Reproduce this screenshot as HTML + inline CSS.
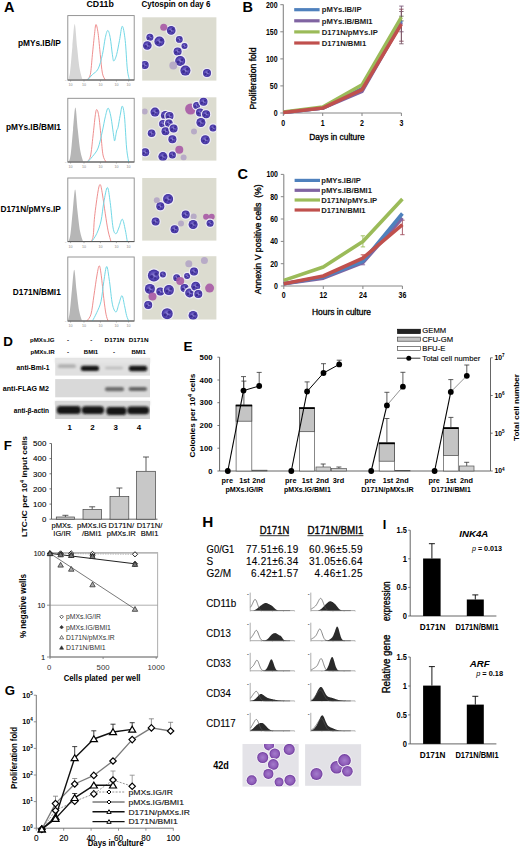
<!DOCTYPE html>
<html><head><meta charset="utf-8"><style>
html,body{margin:0;padding:0;background:#fff;width:520px;height:848px;overflow:hidden}
svg{display:block}
text{font-family:"Liberation Sans",sans-serif;stroke:#000;stroke-width:0.22px;stroke-opacity:0.55}
text.ns,text[font-weight="bold"]{stroke:none}
text.hv{stroke:#000;stroke-width:0.45px;stroke-opacity:0.75}
</style></head><body>
<svg width="520" height="848" viewBox="0 0 520 848">
<text x="4.0" y="11.6" font-size="14.5" font-weight="bold" text-anchor="start" fill="#000" >A</text>
<text x="86.5" y="7.3" font-size="8.8" font-weight="bold" text-anchor="start" fill="#000" >CD11b</text>
<text x="141.5" y="7.4" font-size="8.4" font-weight="bold" text-anchor="start" fill="#000" textLength="69.0" lengthAdjust="spacingAndGlyphs" >Cytospin on day 6</text>
<text x="60.8" y="45.5" font-size="8.3" font-weight="bold" text-anchor="end" fill="#000" >pMYs.IB/IP</text>
<text x="60.8" y="130.3" font-size="8.3" font-weight="bold" text-anchor="end" fill="#000" >pMYs.IB/BMI1</text>
<text x="60.8" y="211.5" font-size="8.3" font-weight="bold" text-anchor="end" fill="#000" >D171N/pMYs.IP</text>
<text x="60.8" y="295.0" font-size="8.3" font-weight="bold" text-anchor="end" fill="#000" >D171N/BMI1</text>
<rect x="67.8" y="15.6" width="66.4" height="64.4" fill="#fff" stroke="#8a8a8a" stroke-width="0.9" />
<path d="M68.10,80.00 C68.43,78.60 69.36,77.20 70.08,71.61 C70.80,66.02 71.62,54.38 72.39,46.46 C73.16,38.54 73.93,24.10 74.70,24.10 C75.47,24.10 76.19,39.01 77.01,46.46 C77.84,53.91 78.72,63.23 79.65,68.82 C80.59,74.41 82.12,78.14 82.62,80.00 Z" fill="#d6d6d6"/>
<path d="M86.80,80.00 C87.38,79.10 89.37,78.82 90.30,74.60 C91.23,70.38 91.68,61.58 92.40,54.70 C93.12,47.82 94.00,38.33 94.60,33.30 C95.20,28.27 95.42,24.50 96.00,24.50 C96.58,24.50 97.38,28.27 98.10,33.30 C98.82,38.33 99.58,48.05 100.30,54.70 C101.02,61.35 101.57,68.98 102.40,73.20 C103.23,77.42 104.82,78.87 105.30,80.00" fill="none" stroke="#ec8282" stroke-width="0.9"/>
<path d="M87.50,80.00 C88.32,79.10 90.63,76.45 92.40,74.60 C94.17,72.75 96.43,72.22 98.10,68.90 C99.77,65.58 101.20,59.92 102.40,54.70 C103.60,49.48 104.40,41.63 105.30,37.60 C106.20,33.57 106.98,30.50 107.80,30.50 C108.62,30.50 109.43,33.57 110.20,37.60 C110.97,41.63 111.80,50.80 112.40,54.70 C113.00,58.60 113.10,61.00 113.80,61.00 C114.50,61.00 115.65,58.13 116.60,54.70 C117.55,51.27 118.55,45.15 119.50,40.40 C120.45,35.65 121.35,26.20 122.30,26.20 C123.25,26.20 124.37,33.28 125.20,40.40 C126.03,47.52 126.60,62.30 127.30,68.90 C128.00,75.50 129.05,78.15 129.40,80.00" fill="none" stroke="#72d8e6" stroke-width="1.0"/>
<line x1="67.8" y1="80.0" x2="134.2" y2="80.0" stroke="#555" stroke-width="1.0" />
<line x1="70.6" y1="80.0" x2="70.6" y2="81.5" stroke="#777" stroke-width="0.6" />
<text x="70.6" y="86.4" font-size="3.6" font-weight="normal" text-anchor="middle" fill="#888" class="ns">10</text>
<line x1="84.0" y1="80.0" x2="84.0" y2="81.5" stroke="#777" stroke-width="0.6" />
<text x="84.0" y="86.4" font-size="3.6" font-weight="normal" text-anchor="middle" fill="#888" class="ns">10</text>
<line x1="100.4" y1="80.0" x2="100.4" y2="81.5" stroke="#777" stroke-width="0.6" />
<text x="100.4" y="86.4" font-size="3.6" font-weight="normal" text-anchor="middle" fill="#888" class="ns">10</text>
<line x1="116.4" y1="80.0" x2="116.4" y2="81.5" stroke="#777" stroke-width="0.6" />
<text x="116.4" y="86.4" font-size="3.6" font-weight="normal" text-anchor="middle" fill="#888" class="ns">10</text>
<line x1="128.6" y1="80.0" x2="128.6" y2="81.5" stroke="#777" stroke-width="0.6" />
<text x="128.6" y="86.4" font-size="3.6" font-weight="normal" text-anchor="middle" fill="#888" class="ns">10</text>
<text x="66.3" y="81.0" font-size="2.5" font-weight="normal" text-anchor="end" fill="#aaa" class="ns">0</text>
<rect x="67.8" y="98.3" width="66.4" height="63.7" fill="#fff" stroke="#8a8a8a" stroke-width="0.9" />
<path d="M68.80,162.00 C69.13,160.64 70.06,159.27 70.78,153.82 C71.50,148.38 72.32,137.02 73.09,129.30 C73.86,121.58 74.63,107.50 75.40,107.50 C76.17,107.50 76.89,122.03 77.71,129.30 C78.54,136.57 79.42,145.65 80.35,151.10 C81.29,156.55 82.83,160.18 83.32,162.00 Z" fill="#b6b6b6"/>
<path d="M87.00,162.00 C87.58,161.00 89.50,160.33 90.50,156.00 C91.50,151.67 92.22,142.67 93.00,136.00 C93.78,129.33 94.58,120.40 95.20,116.00 C95.82,111.60 96.10,109.60 96.70,109.60 C97.30,109.60 98.08,111.60 98.80,116.00 C99.52,120.40 100.30,129.50 101.00,136.00 C101.70,142.50 102.17,150.67 103.00,155.00 C103.83,159.33 105.50,160.83 106.00,162.00" fill="none" stroke="#ec8282" stroke-width="0.9"/>
<path d="M87.50,162.00 C88.32,161.10 90.63,158.93 92.40,156.60 C94.17,154.27 96.43,152.27 98.10,148.00 C99.77,143.73 101.20,136.20 102.40,131.00 C103.60,125.80 104.35,120.60 105.30,116.80 C106.25,113.00 107.17,108.20 108.10,108.20 C109.03,108.20 109.95,112.05 110.90,116.80 C111.85,121.55 113.15,132.75 113.80,136.70 C114.45,140.65 114.33,141.45 114.80,140.50 C115.27,139.55 116.07,133.18 116.60,131.00 C117.13,128.82 117.40,130.02 118.00,127.40 C118.60,124.78 119.48,118.85 120.20,115.30 C120.92,111.75 121.58,105.85 122.30,106.10 C123.02,106.35 123.78,109.82 124.50,116.80 C125.22,123.78 125.90,140.47 126.60,148.00 C127.30,155.53 128.35,159.67 128.70,162.00" fill="none" stroke="#72d8e6" stroke-width="1.0"/>
<line x1="67.8" y1="162.0" x2="134.2" y2="162.0" stroke="#555" stroke-width="1.0" />
<line x1="70.6" y1="162.0" x2="70.6" y2="163.5" stroke="#777" stroke-width="0.6" />
<text x="70.6" y="168.4" font-size="3.6" font-weight="normal" text-anchor="middle" fill="#888" class="ns">10</text>
<line x1="84.0" y1="162.0" x2="84.0" y2="163.5" stroke="#777" stroke-width="0.6" />
<text x="84.0" y="168.4" font-size="3.6" font-weight="normal" text-anchor="middle" fill="#888" class="ns">10</text>
<line x1="100.4" y1="162.0" x2="100.4" y2="163.5" stroke="#777" stroke-width="0.6" />
<text x="100.4" y="168.4" font-size="3.6" font-weight="normal" text-anchor="middle" fill="#888" class="ns">10</text>
<line x1="116.4" y1="162.0" x2="116.4" y2="163.5" stroke="#777" stroke-width="0.6" />
<text x="116.4" y="168.4" font-size="3.6" font-weight="normal" text-anchor="middle" fill="#888" class="ns">10</text>
<line x1="128.6" y1="162.0" x2="128.6" y2="163.5" stroke="#777" stroke-width="0.6" />
<text x="128.6" y="168.4" font-size="3.6" font-weight="normal" text-anchor="middle" fill="#888" class="ns">10</text>
<text x="66.3" y="163.0" font-size="2.5" font-weight="normal" text-anchor="end" fill="#aaa" class="ns">0</text>
<rect x="67.8" y="178.0" width="66.4" height="63.6" fill="#fff" stroke="#8a8a8a" stroke-width="0.9" />
<path d="M68.50,241.60 C68.83,240.30 69.76,239.00 70.48,233.80 C71.19,228.60 72.02,217.77 72.79,210.40 C73.56,203.03 74.33,189.60 75.10,189.60 C75.87,189.60 76.58,203.47 77.41,210.40 C78.23,217.33 79.11,226.00 80.05,231.20 C80.98,236.40 82.52,239.87 83.02,241.60 Z" fill="#b6b6b6"/>
<path d="M91.00,241.60 C91.37,240.67 92.60,240.15 93.20,236.00 C93.80,231.85 93.78,224.20 94.60,216.70 C95.42,209.20 97.15,196.33 98.10,191.00 C99.05,185.67 99.58,184.20 100.30,184.70 C101.02,185.20 101.57,189.15 102.40,194.00 C103.23,198.85 104.35,207.65 105.30,213.80 C106.25,219.95 107.15,226.27 108.10,230.90 C109.05,235.53 110.52,239.82 111.00,241.60" fill="none" stroke="#ec8282" stroke-width="0.9"/>
<path d="M91.70,241.60 C92.53,240.28 95.15,237.13 96.70,233.70 C98.25,230.27 99.82,226.22 101.00,221.00 C102.18,215.78 102.73,207.98 103.80,202.40 C104.87,196.82 106.33,187.50 107.40,187.50 C108.47,187.50 109.25,195.65 110.20,202.40 C111.15,209.15 112.13,222.78 113.10,228.00 C114.07,233.22 115.05,233.70 116.00,233.70 C116.95,233.70 117.75,230.42 118.80,228.00 C119.85,225.58 121.23,218.95 122.30,219.20 C123.37,219.45 124.37,225.77 125.20,229.50 C126.03,233.23 126.95,239.58 127.30,241.60" fill="none" stroke="#72d8e6" stroke-width="1.0"/>
<line x1="67.8" y1="241.6" x2="134.2" y2="241.6" stroke="#555" stroke-width="1.0" />
<line x1="70.6" y1="241.6" x2="70.6" y2="243.1" stroke="#777" stroke-width="0.6" />
<text x="70.6" y="248.0" font-size="3.6" font-weight="normal" text-anchor="middle" fill="#888" class="ns">10</text>
<line x1="84.0" y1="241.6" x2="84.0" y2="243.1" stroke="#777" stroke-width="0.6" />
<text x="84.0" y="248.0" font-size="3.6" font-weight="normal" text-anchor="middle" fill="#888" class="ns">10</text>
<line x1="100.4" y1="241.6" x2="100.4" y2="243.1" stroke="#777" stroke-width="0.6" />
<text x="100.4" y="248.0" font-size="3.6" font-weight="normal" text-anchor="middle" fill="#888" class="ns">10</text>
<line x1="116.4" y1="241.6" x2="116.4" y2="243.1" stroke="#777" stroke-width="0.6" />
<text x="116.4" y="248.0" font-size="3.6" font-weight="normal" text-anchor="middle" fill="#888" class="ns">10</text>
<line x1="128.6" y1="241.6" x2="128.6" y2="243.1" stroke="#777" stroke-width="0.6" />
<text x="128.6" y="248.0" font-size="3.6" font-weight="normal" text-anchor="middle" fill="#888" class="ns">10</text>
<text x="66.3" y="242.6" font-size="2.5" font-weight="normal" text-anchor="end" fill="#aaa" class="ns">0</text>
<rect x="67.8" y="257.0" width="66.4" height="64.0" fill="#fff" stroke="#8a8a8a" stroke-width="0.9" />
<path d="M67.60,321.00 C67.93,319.72 68.86,318.44 69.58,313.32 C70.30,308.20 71.12,297.53 71.89,290.28 C72.66,283.03 73.43,269.80 74.20,269.80 C74.97,269.80 75.69,283.45 76.51,290.28 C77.34,297.11 78.22,305.64 79.15,310.76 C80.09,315.88 81.62,319.29 82.12,321.00 Z" fill="#b6b6b6"/>
<path d="M86.80,321.00 C87.50,319.87 89.82,318.42 91.00,314.20 C92.18,309.98 92.90,302.23 93.90,295.70 C94.90,289.17 96.10,279.98 97.00,275.00 C97.90,270.02 98.58,265.67 99.30,265.80 C100.02,265.93 100.55,270.35 101.30,275.80 C102.05,281.25 103.02,292.10 103.80,298.50 C104.58,304.90 105.28,310.45 106.00,314.20 C106.72,317.95 107.75,319.87 108.10,321.00" fill="none" stroke="#ec8282" stroke-width="0.9"/>
<path d="M92.40,321.00 C93.12,319.62 95.27,315.97 96.70,312.70 C98.13,309.43 99.82,306.60 101.00,301.40 C102.18,296.20 102.85,287.32 103.80,281.50 C104.75,275.68 105.75,266.50 106.70,266.50 C107.65,266.50 108.55,275.22 109.50,281.50 C110.45,287.78 111.32,299.12 112.40,304.20 C113.48,309.28 114.93,312.00 116.00,312.00 C117.07,312.00 117.80,306.92 118.80,304.20 C119.80,301.48 121.05,295.47 122.00,295.70 C122.95,295.93 123.73,302.28 124.50,305.60 C125.27,308.92 125.90,313.03 126.60,315.60 C127.30,318.17 128.35,320.10 128.70,321.00" fill="none" stroke="#72d8e6" stroke-width="1.0"/>
<line x1="67.8" y1="321.0" x2="134.2" y2="321.0" stroke="#555" stroke-width="1.0" />
<line x1="70.6" y1="321.0" x2="70.6" y2="322.5" stroke="#777" stroke-width="0.6" />
<text x="70.6" y="327.4" font-size="3.6" font-weight="normal" text-anchor="middle" fill="#888" class="ns">10</text>
<line x1="84.0" y1="321.0" x2="84.0" y2="322.5" stroke="#777" stroke-width="0.6" />
<text x="84.0" y="327.4" font-size="3.6" font-weight="normal" text-anchor="middle" fill="#888" class="ns">10</text>
<line x1="100.4" y1="321.0" x2="100.4" y2="322.5" stroke="#777" stroke-width="0.6" />
<text x="100.4" y="327.4" font-size="3.6" font-weight="normal" text-anchor="middle" fill="#888" class="ns">10</text>
<line x1="116.4" y1="321.0" x2="116.4" y2="322.5" stroke="#777" stroke-width="0.6" />
<text x="116.4" y="327.4" font-size="3.6" font-weight="normal" text-anchor="middle" fill="#888" class="ns">10</text>
<line x1="128.6" y1="321.0" x2="128.6" y2="322.5" stroke="#777" stroke-width="0.6" />
<text x="128.6" y="327.4" font-size="3.6" font-weight="normal" text-anchor="middle" fill="#888" class="ns">10</text>
<text x="66.3" y="322.0" font-size="2.5" font-weight="normal" text-anchor="end" fill="#aaa" class="ns">0</text>
<defs><filter id="sblur" x="-50%" y="-50%" width="200%" height="200%"><feGaussianBlur stdDeviation="0.6"/></filter></defs>
<defs><radialGradient id="cellg"><stop offset="0" stop-color="#9488da"/><stop offset="0.55" stop-color="#6252bc"/><stop offset="1" stop-color="#3c2c9a"/></radialGradient></defs>
<rect x="142.2" y="17.3" width="74.2" height="63.3" fill="#dcdcd0" stroke="none" stroke-width="1" />
<g clip-path="url(#clipc17)">
<circle cx="171.2" cy="30.4" r="5.6" fill="#eceaf4" stroke="none" stroke-width="1" />
<circle cx="171.2" cy="30.4" r="4.3" fill="url(#cellg)" stroke="none" stroke-width="1" />
<circle cx="169.7" cy="31.3" r="1.3" fill="#2c1c80" stroke="none" stroke-width="1" opacity="0.75"/>
<circle cx="172.7" cy="29.3" r="1.2" fill="#2c1c80" stroke="none" stroke-width="1" opacity="0.7"/>
<circle cx="172.1" cy="32.3" r="0.9" fill="#2c1c80" stroke="none" stroke-width="1" opacity="0.6"/>
<circle cx="149.9" cy="37.2" r="4.8" fill="#eceaf4" stroke="none" stroke-width="1" />
<circle cx="149.9" cy="37.2" r="3.5" fill="url(#cellg)" stroke="none" stroke-width="1" />
<circle cx="148.7" cy="37.9" r="1.1" fill="#2c1c80" stroke="none" stroke-width="1" opacity="0.75"/>
<circle cx="151.1" cy="36.3" r="1.0" fill="#2c1c80" stroke="none" stroke-width="1" opacity="0.7"/>
<circle cx="150.6" cy="38.8" r="0.8" fill="#2c1c80" stroke="none" stroke-width="1" opacity="0.6"/>
<circle cx="159.4" cy="41.5" r="6.3" fill="#eceaf4" stroke="none" stroke-width="1" />
<circle cx="159.4" cy="41.5" r="5.0" fill="url(#cellg)" stroke="none" stroke-width="1" />
<circle cx="157.7" cy="42.5" r="1.5" fill="#2c1c80" stroke="none" stroke-width="1" opacity="0.75"/>
<circle cx="161.2" cy="40.2" r="1.4" fill="#2c1c80" stroke="none" stroke-width="1" opacity="0.7"/>
<circle cx="160.4" cy="43.8" r="1.1" fill="#2c1c80" stroke="none" stroke-width="1" opacity="0.6"/>
<circle cx="147.3" cy="45.5" r="5.6" fill="#eceaf4" stroke="none" stroke-width="1" />
<circle cx="147.3" cy="45.5" r="4.3" fill="url(#cellg)" stroke="none" stroke-width="1" />
<circle cx="145.8" cy="46.4" r="1.3" fill="#2c1c80" stroke="none" stroke-width="1" opacity="0.75"/>
<circle cx="148.8" cy="44.4" r="1.2" fill="#2c1c80" stroke="none" stroke-width="1" opacity="0.7"/>
<circle cx="148.2" cy="47.4" r="0.9" fill="#2c1c80" stroke="none" stroke-width="1" opacity="0.6"/>
<circle cx="179.3" cy="39.4" r="4.7" fill="#eceaf4" stroke="none" stroke-width="1" />
<circle cx="179.3" cy="39.4" r="3.4" fill="url(#cellg)" stroke="none" stroke-width="1" />
<circle cx="178.1" cy="40.1" r="1.0" fill="#2c1c80" stroke="none" stroke-width="1" opacity="0.75"/>
<circle cx="180.5" cy="38.5" r="1.0" fill="#2c1c80" stroke="none" stroke-width="1" opacity="0.7"/>
<circle cx="180.0" cy="40.9" r="0.7" fill="#2c1c80" stroke="none" stroke-width="1" opacity="0.6"/>
<circle cx="184.5" cy="46.0" r="4.3" fill="#eceaf4" stroke="none" stroke-width="1" />
<circle cx="184.5" cy="46.0" r="3.0" fill="url(#cellg)" stroke="none" stroke-width="1" />
<circle cx="183.4" cy="46.6" r="0.9" fill="#2c1c80" stroke="none" stroke-width="1" opacity="0.75"/>
<circle cx="185.6" cy="45.2" r="0.8" fill="#2c1c80" stroke="none" stroke-width="1" opacity="0.7"/>
<circle cx="185.1" cy="47.4" r="0.7" fill="#2c1c80" stroke="none" stroke-width="1" opacity="0.6"/>
<circle cx="177.6" cy="51.5" r="5.3" fill="#eceaf4" stroke="none" stroke-width="1" />
<circle cx="177.6" cy="51.5" r="4.0" fill="url(#cellg)" stroke="none" stroke-width="1" />
<circle cx="176.2" cy="52.3" r="1.2" fill="#2c1c80" stroke="none" stroke-width="1" opacity="0.75"/>
<circle cx="179.0" cy="50.5" r="1.1" fill="#2c1c80" stroke="none" stroke-width="1" opacity="0.7"/>
<circle cx="178.4" cy="53.3" r="0.9" fill="#2c1c80" stroke="none" stroke-width="1" opacity="0.6"/>
<circle cx="180.2" cy="61.0" r="6.3" fill="#eceaf4" stroke="none" stroke-width="1" />
<circle cx="180.2" cy="61.0" r="5.0" fill="url(#cellg)" stroke="none" stroke-width="1" />
<circle cx="178.4" cy="62.0" r="1.5" fill="#2c1c80" stroke="none" stroke-width="1" opacity="0.75"/>
<circle cx="181.9" cy="59.8" r="1.4" fill="#2c1c80" stroke="none" stroke-width="1" opacity="0.7"/>
<circle cx="181.2" cy="63.2" r="1.1" fill="#2c1c80" stroke="none" stroke-width="1" opacity="0.6"/>
<circle cx="185.4" cy="70.6" r="6.3" fill="#eceaf4" stroke="none" stroke-width="1" />
<circle cx="185.4" cy="70.6" r="5.0" fill="url(#cellg)" stroke="none" stroke-width="1" />
<circle cx="183.7" cy="71.6" r="1.5" fill="#2c1c80" stroke="none" stroke-width="1" opacity="0.75"/>
<circle cx="187.2" cy="69.3" r="1.4" fill="#2c1c80" stroke="none" stroke-width="1" opacity="0.7"/>
<circle cx="186.4" cy="72.8" r="1.1" fill="#2c1c80" stroke="none" stroke-width="1" opacity="0.6"/>
<circle cx="173.3" cy="65.4" r="4.0" fill="#b4a6c6" stroke="none" stroke-width="1" opacity="0.9" filter="url(#sblur)"/>
<circle cx="144.7" cy="65.0" r="5.3" fill="#eceaf4" stroke="none" stroke-width="1" />
<circle cx="144.7" cy="65.0" r="4.0" fill="url(#cellg)" stroke="none" stroke-width="1" />
<circle cx="143.3" cy="65.8" r="1.2" fill="#2c1c80" stroke="none" stroke-width="1" opacity="0.75"/>
<circle cx="146.1" cy="64.0" r="1.1" fill="#2c1c80" stroke="none" stroke-width="1" opacity="0.7"/>
<circle cx="145.5" cy="66.8" r="0.9" fill="#2c1c80" stroke="none" stroke-width="1" opacity="0.6"/>
<circle cx="207.0" cy="73.1" r="5.3" fill="#eceaf4" stroke="none" stroke-width="1" />
<circle cx="207.0" cy="73.1" r="4.0" fill="url(#cellg)" stroke="none" stroke-width="1" />
<circle cx="205.6" cy="73.9" r="1.2" fill="#2c1c80" stroke="none" stroke-width="1" opacity="0.75"/>
<circle cx="208.4" cy="72.1" r="1.1" fill="#2c1c80" stroke="none" stroke-width="1" opacity="0.7"/>
<circle cx="207.8" cy="74.9" r="0.9" fill="#2c1c80" stroke="none" stroke-width="1" opacity="0.6"/>
<circle cx="163.7" cy="27.3" r="3.5" fill="#a85aa6" stroke="none" stroke-width="1" opacity="0.9" filter="url(#sblur)"/>
</g>
<clipPath id="clipc17"><rect x="142.2" y="17.3" width="74.20000000000002" height="63.3"/></clipPath>
<rect x="142.2" y="97.3" width="74.2" height="63.3" fill="#dcdcd0" stroke="none" stroke-width="1" />
<g clip-path="url(#clipc97)">
<circle cx="144.7" cy="111.6" r="3.0" fill="#b4a6c6" stroke="none" stroke-width="1" opacity="0.9" filter="url(#sblur)"/>
<circle cx="155.0" cy="112.1" r="5.8" fill="#eceaf4" stroke="none" stroke-width="1" />
<circle cx="155.0" cy="112.1" r="4.5" fill="url(#cellg)" stroke="none" stroke-width="1" />
<circle cx="153.4" cy="113.0" r="1.3" fill="#2c1c80" stroke="none" stroke-width="1" opacity="0.75"/>
<circle cx="156.6" cy="111.0" r="1.3" fill="#2c1c80" stroke="none" stroke-width="1" opacity="0.7"/>
<circle cx="155.9" cy="114.1" r="1.0" fill="#2c1c80" stroke="none" stroke-width="1" opacity="0.6"/>
<circle cx="165.5" cy="115.6" r="5.9" fill="#eceaf4" stroke="none" stroke-width="1" />
<circle cx="165.5" cy="115.6" r="4.6" fill="url(#cellg)" stroke="none" stroke-width="1" />
<circle cx="163.9" cy="116.5" r="1.4" fill="#2c1c80" stroke="none" stroke-width="1" opacity="0.75"/>
<circle cx="167.1" cy="114.4" r="1.3" fill="#2c1c80" stroke="none" stroke-width="1" opacity="0.7"/>
<circle cx="166.4" cy="117.7" r="1.0" fill="#2c1c80" stroke="none" stroke-width="1" opacity="0.6"/>
<circle cx="169.5" cy="116.0" r="5.3" fill="#eceaf4" stroke="none" stroke-width="1" />
<circle cx="169.5" cy="116.0" r="4.0" fill="url(#cellg)" stroke="none" stroke-width="1" />
<circle cx="168.1" cy="116.8" r="1.2" fill="#2c1c80" stroke="none" stroke-width="1" opacity="0.75"/>
<circle cx="170.9" cy="115.0" r="1.1" fill="#2c1c80" stroke="none" stroke-width="1" opacity="0.7"/>
<circle cx="170.3" cy="117.8" r="0.9" fill="#2c1c80" stroke="none" stroke-width="1" opacity="0.6"/>
<circle cx="162.9" cy="123.7" r="5.1" fill="#eceaf4" stroke="none" stroke-width="1" />
<circle cx="162.9" cy="123.7" r="3.8" fill="url(#cellg)" stroke="none" stroke-width="1" />
<circle cx="161.6" cy="124.5" r="1.1" fill="#2c1c80" stroke="none" stroke-width="1" opacity="0.75"/>
<circle cx="164.2" cy="122.8" r="1.1" fill="#2c1c80" stroke="none" stroke-width="1" opacity="0.7"/>
<circle cx="163.7" cy="125.4" r="0.8" fill="#2c1c80" stroke="none" stroke-width="1" opacity="0.6"/>
<circle cx="168.9" cy="123.2" r="5.1" fill="#eceaf4" stroke="none" stroke-width="1" />
<circle cx="168.9" cy="123.2" r="3.8" fill="url(#cellg)" stroke="none" stroke-width="1" />
<circle cx="167.6" cy="124.0" r="1.1" fill="#2c1c80" stroke="none" stroke-width="1" opacity="0.75"/>
<circle cx="170.2" cy="122.2" r="1.1" fill="#2c1c80" stroke="none" stroke-width="1" opacity="0.7"/>
<circle cx="169.7" cy="124.9" r="0.8" fill="#2c1c80" stroke="none" stroke-width="1" opacity="0.6"/>
<circle cx="165.5" cy="131.2" r="5.3" fill="#eceaf4" stroke="none" stroke-width="1" />
<circle cx="165.5" cy="131.2" r="4.0" fill="url(#cellg)" stroke="none" stroke-width="1" />
<circle cx="164.1" cy="132.0" r="1.2" fill="#2c1c80" stroke="none" stroke-width="1" opacity="0.75"/>
<circle cx="166.9" cy="130.2" r="1.1" fill="#2c1c80" stroke="none" stroke-width="1" opacity="0.7"/>
<circle cx="166.3" cy="133.0" r="0.9" fill="#2c1c80" stroke="none" stroke-width="1" opacity="0.6"/>
<circle cx="173.6" cy="128.4" r="5.3" fill="#eceaf4" stroke="none" stroke-width="1" />
<circle cx="173.6" cy="128.4" r="4.0" fill="url(#cellg)" stroke="none" stroke-width="1" />
<circle cx="172.2" cy="129.2" r="1.2" fill="#2c1c80" stroke="none" stroke-width="1" opacity="0.75"/>
<circle cx="175.0" cy="127.4" r="1.1" fill="#2c1c80" stroke="none" stroke-width="1" opacity="0.7"/>
<circle cx="174.4" cy="130.2" r="0.9" fill="#2c1c80" stroke="none" stroke-width="1" opacity="0.6"/>
<circle cx="151.6" cy="133.3" r="5.1" fill="#eceaf4" stroke="none" stroke-width="1" />
<circle cx="151.6" cy="133.3" r="3.8" fill="url(#cellg)" stroke="none" stroke-width="1" />
<circle cx="150.3" cy="134.1" r="1.1" fill="#2c1c80" stroke="none" stroke-width="1" opacity="0.75"/>
<circle cx="152.9" cy="132.4" r="1.1" fill="#2c1c80" stroke="none" stroke-width="1" opacity="0.7"/>
<circle cx="152.4" cy="135.0" r="0.8" fill="#2c1c80" stroke="none" stroke-width="1" opacity="0.6"/>
<circle cx="172.4" cy="139.3" r="5.3" fill="#eceaf4" stroke="none" stroke-width="1" />
<circle cx="172.4" cy="139.3" r="4.0" fill="url(#cellg)" stroke="none" stroke-width="1" />
<circle cx="171.0" cy="140.1" r="1.2" fill="#2c1c80" stroke="none" stroke-width="1" opacity="0.75"/>
<circle cx="173.8" cy="138.3" r="1.1" fill="#2c1c80" stroke="none" stroke-width="1" opacity="0.7"/>
<circle cx="173.2" cy="141.1" r="0.9" fill="#2c1c80" stroke="none" stroke-width="1" opacity="0.6"/>
<circle cx="190.6" cy="109.0" r="5.5" fill="#a85aa6" stroke="none" stroke-width="1" opacity="0.9" filter="url(#sblur)"/>
<circle cx="196.6" cy="105.6" r="4.8" fill="#eceaf4" stroke="none" stroke-width="1" />
<circle cx="196.6" cy="105.6" r="3.5" fill="url(#cellg)" stroke="none" stroke-width="1" />
<circle cx="195.4" cy="106.3" r="1.1" fill="#2c1c80" stroke="none" stroke-width="1" opacity="0.75"/>
<circle cx="197.8" cy="104.7" r="1.0" fill="#2c1c80" stroke="none" stroke-width="1" opacity="0.7"/>
<circle cx="197.3" cy="107.2" r="0.8" fill="#2c1c80" stroke="none" stroke-width="1" opacity="0.6"/>
<circle cx="203.5" cy="101.8" r="5.3" fill="#eceaf4" stroke="none" stroke-width="1" />
<circle cx="203.5" cy="101.8" r="4.0" fill="url(#cellg)" stroke="none" stroke-width="1" />
<circle cx="202.1" cy="102.6" r="1.2" fill="#2c1c80" stroke="none" stroke-width="1" opacity="0.75"/>
<circle cx="204.9" cy="100.8" r="1.1" fill="#2c1c80" stroke="none" stroke-width="1" opacity="0.7"/>
<circle cx="204.3" cy="103.6" r="0.9" fill="#2c1c80" stroke="none" stroke-width="1" opacity="0.6"/>
<circle cx="200.0" cy="112.5" r="5.3" fill="#eceaf4" stroke="none" stroke-width="1" />
<circle cx="200.0" cy="112.5" r="4.0" fill="url(#cellg)" stroke="none" stroke-width="1" />
<circle cx="198.6" cy="113.3" r="1.2" fill="#2c1c80" stroke="none" stroke-width="1" opacity="0.75"/>
<circle cx="201.4" cy="111.5" r="1.1" fill="#2c1c80" stroke="none" stroke-width="1" opacity="0.7"/>
<circle cx="200.8" cy="114.3" r="0.9" fill="#2c1c80" stroke="none" stroke-width="1" opacity="0.6"/>
<circle cx="206.1" cy="114.2" r="5.3" fill="#eceaf4" stroke="none" stroke-width="1" />
<circle cx="206.1" cy="114.2" r="4.0" fill="url(#cellg)" stroke="none" stroke-width="1" />
<circle cx="204.7" cy="115.0" r="1.2" fill="#2c1c80" stroke="none" stroke-width="1" opacity="0.75"/>
<circle cx="207.5" cy="113.2" r="1.1" fill="#2c1c80" stroke="none" stroke-width="1" opacity="0.7"/>
<circle cx="206.9" cy="116.0" r="0.9" fill="#2c1c80" stroke="none" stroke-width="1" opacity="0.6"/>
<circle cx="200.9" cy="122.5" r="5.8" fill="#eceaf4" stroke="none" stroke-width="1" />
<circle cx="200.9" cy="122.5" r="4.5" fill="url(#cellg)" stroke="none" stroke-width="1" />
<circle cx="199.3" cy="123.4" r="1.3" fill="#2c1c80" stroke="none" stroke-width="1" opacity="0.75"/>
<circle cx="202.5" cy="121.4" r="1.3" fill="#2c1c80" stroke="none" stroke-width="1" opacity="0.7"/>
<circle cx="201.8" cy="124.5" r="1.0" fill="#2c1c80" stroke="none" stroke-width="1" opacity="0.6"/>
<circle cx="213.0" cy="128.0" r="4.8" fill="#eceaf4" stroke="none" stroke-width="1" />
<circle cx="213.0" cy="128.0" r="3.5" fill="url(#cellg)" stroke="none" stroke-width="1" />
<circle cx="211.8" cy="128.7" r="1.1" fill="#2c1c80" stroke="none" stroke-width="1" opacity="0.75"/>
<circle cx="214.2" cy="127.1" r="1.0" fill="#2c1c80" stroke="none" stroke-width="1" opacity="0.7"/>
<circle cx="213.7" cy="129.6" r="0.8" fill="#2c1c80" stroke="none" stroke-width="1" opacity="0.6"/>
<circle cx="205.3" cy="139.8" r="5.8" fill="#eceaf4" stroke="none" stroke-width="1" />
<circle cx="205.3" cy="139.8" r="4.5" fill="url(#cellg)" stroke="none" stroke-width="1" />
<circle cx="203.7" cy="140.7" r="1.3" fill="#2c1c80" stroke="none" stroke-width="1" opacity="0.75"/>
<circle cx="206.9" cy="138.7" r="1.3" fill="#2c1c80" stroke="none" stroke-width="1" opacity="0.7"/>
<circle cx="206.2" cy="141.8" r="1.0" fill="#2c1c80" stroke="none" stroke-width="1" opacity="0.6"/>
<circle cx="194.0" cy="131.5" r="3.0" fill="#b4a6c6" stroke="none" stroke-width="1" opacity="0.9" filter="url(#sblur)"/>
<circle cx="145.2" cy="152.3" r="5.3" fill="#eceaf4" stroke="none" stroke-width="1" />
<circle cx="145.2" cy="152.3" r="4.0" fill="url(#cellg)" stroke="none" stroke-width="1" />
<circle cx="143.8" cy="153.1" r="1.2" fill="#2c1c80" stroke="none" stroke-width="1" opacity="0.75"/>
<circle cx="146.6" cy="151.3" r="1.1" fill="#2c1c80" stroke="none" stroke-width="1" opacity="0.7"/>
<circle cx="146.0" cy="154.1" r="0.9" fill="#2c1c80" stroke="none" stroke-width="1" opacity="0.6"/>
<circle cx="162.9" cy="156.6" r="5.8" fill="#eceaf4" stroke="none" stroke-width="1" />
<circle cx="162.9" cy="156.6" r="4.5" fill="url(#cellg)" stroke="none" stroke-width="1" />
<circle cx="161.3" cy="157.5" r="1.3" fill="#2c1c80" stroke="none" stroke-width="1" opacity="0.75"/>
<circle cx="164.5" cy="155.5" r="1.3" fill="#2c1c80" stroke="none" stroke-width="1" opacity="0.7"/>
<circle cx="163.8" cy="158.6" r="1.0" fill="#2c1c80" stroke="none" stroke-width="1" opacity="0.6"/>
<circle cx="172.4" cy="154.9" r="4.8" fill="#eceaf4" stroke="none" stroke-width="1" />
<circle cx="172.4" cy="154.9" r="3.5" fill="url(#cellg)" stroke="none" stroke-width="1" />
<circle cx="171.2" cy="155.6" r="1.1" fill="#2c1c80" stroke="none" stroke-width="1" opacity="0.75"/>
<circle cx="173.6" cy="154.0" r="1.0" fill="#2c1c80" stroke="none" stroke-width="1" opacity="0.7"/>
<circle cx="173.1" cy="156.5" r="0.8" fill="#2c1c80" stroke="none" stroke-width="1" opacity="0.6"/>
<circle cx="179.3" cy="149.7" r="4.0" fill="#a85aa6" stroke="none" stroke-width="1" opacity="0.9" filter="url(#sblur)"/>
<circle cx="183.6" cy="157.5" r="3.0" fill="#b4a6c6" stroke="none" stroke-width="1" opacity="0.9" filter="url(#sblur)"/>
</g>
<clipPath id="clipc97"><rect x="142.2" y="97.3" width="74.20000000000002" height="63.3"/></clipPath>
<rect x="142.2" y="178.0" width="74.2" height="62.6" fill="#dcdcd0" stroke="none" stroke-width="1" />
<g clip-path="url(#clipc178)">
<circle cx="168.1" cy="199.0" r="6.3" fill="#eceaf4" stroke="none" stroke-width="1" />
<circle cx="168.1" cy="199.0" r="5.0" fill="url(#cellg)" stroke="none" stroke-width="1" />
<circle cx="166.3" cy="200.0" r="1.5" fill="#2c1c80" stroke="none" stroke-width="1" opacity="0.75"/>
<circle cx="169.8" cy="197.8" r="1.4" fill="#2c1c80" stroke="none" stroke-width="1" opacity="0.7"/>
<circle cx="169.1" cy="201.2" r="1.1" fill="#2c1c80" stroke="none" stroke-width="1" opacity="0.6"/>
<circle cx="160.3" cy="206.3" r="5.3" fill="#eceaf4" stroke="none" stroke-width="1" />
<circle cx="160.3" cy="206.3" r="4.0" fill="url(#cellg)" stroke="none" stroke-width="1" />
<circle cx="158.9" cy="207.1" r="1.2" fill="#2c1c80" stroke="none" stroke-width="1" opacity="0.75"/>
<circle cx="161.7" cy="205.3" r="1.1" fill="#2c1c80" stroke="none" stroke-width="1" opacity="0.7"/>
<circle cx="161.1" cy="208.1" r="0.9" fill="#2c1c80" stroke="none" stroke-width="1" opacity="0.6"/>
<circle cx="156.8" cy="200.3" r="3.0" fill="#b4a6c6" stroke="none" stroke-width="1" opacity="0.9" filter="url(#sblur)"/>
<circle cx="155.6" cy="221.6" r="5.3" fill="#eceaf4" stroke="none" stroke-width="1" />
<circle cx="155.6" cy="221.6" r="4.0" fill="url(#cellg)" stroke="none" stroke-width="1" />
<circle cx="154.2" cy="222.4" r="1.2" fill="#2c1c80" stroke="none" stroke-width="1" opacity="0.75"/>
<circle cx="157.0" cy="220.6" r="1.1" fill="#2c1c80" stroke="none" stroke-width="1" opacity="0.7"/>
<circle cx="156.4" cy="223.4" r="0.9" fill="#2c1c80" stroke="none" stroke-width="1" opacity="0.6"/>
<circle cx="174.6" cy="229.2" r="5.3" fill="#eceaf4" stroke="none" stroke-width="1" />
<circle cx="174.6" cy="229.2" r="4.0" fill="url(#cellg)" stroke="none" stroke-width="1" />
<circle cx="173.2" cy="230.0" r="1.2" fill="#2c1c80" stroke="none" stroke-width="1" opacity="0.75"/>
<circle cx="176.0" cy="228.2" r="1.1" fill="#2c1c80" stroke="none" stroke-width="1" opacity="0.7"/>
<circle cx="175.4" cy="231.0" r="0.9" fill="#2c1c80" stroke="none" stroke-width="1" opacity="0.6"/>
<circle cx="181.0" cy="223.6" r="3.0" fill="#b4a6c6" stroke="none" stroke-width="1" opacity="0.9" filter="url(#sblur)"/>
<circle cx="185.7" cy="214.6" r="5.3" fill="#eceaf4" stroke="none" stroke-width="1" />
<circle cx="185.7" cy="214.6" r="4.0" fill="url(#cellg)" stroke="none" stroke-width="1" />
<circle cx="184.3" cy="215.4" r="1.2" fill="#2c1c80" stroke="none" stroke-width="1" opacity="0.75"/>
<circle cx="187.1" cy="213.6" r="1.1" fill="#2c1c80" stroke="none" stroke-width="1" opacity="0.7"/>
<circle cx="186.5" cy="216.4" r="0.9" fill="#2c1c80" stroke="none" stroke-width="1" opacity="0.6"/>
<circle cx="193.7" cy="216.4" r="3.0" fill="#b4a6c6" stroke="none" stroke-width="1" opacity="0.9" filter="url(#sblur)"/>
<circle cx="193.1" cy="224.5" r="5.8" fill="#eceaf4" stroke="none" stroke-width="1" />
<circle cx="193.1" cy="224.5" r="4.5" fill="url(#cellg)" stroke="none" stroke-width="1" />
<circle cx="191.5" cy="225.4" r="1.3" fill="#2c1c80" stroke="none" stroke-width="1" opacity="0.75"/>
<circle cx="194.7" cy="223.4" r="1.3" fill="#2c1c80" stroke="none" stroke-width="1" opacity="0.7"/>
<circle cx="194.0" cy="226.5" r="1.0" fill="#2c1c80" stroke="none" stroke-width="1" opacity="0.6"/>
<circle cx="206.1" cy="216.7" r="3.0" fill="#a85aa6" stroke="none" stroke-width="1" opacity="0.9" filter="url(#sblur)"/>
<circle cx="211.7" cy="216.7" r="3.0" fill="#a85aa6" stroke="none" stroke-width="1" opacity="0.9" filter="url(#sblur)"/>
<circle cx="210.1" cy="223.3" r="4.8" fill="#eceaf4" stroke="none" stroke-width="1" />
<circle cx="210.1" cy="223.3" r="3.5" fill="url(#cellg)" stroke="none" stroke-width="1" />
<circle cx="208.9" cy="224.0" r="1.1" fill="#2c1c80" stroke="none" stroke-width="1" opacity="0.75"/>
<circle cx="211.3" cy="222.4" r="1.0" fill="#2c1c80" stroke="none" stroke-width="1" opacity="0.7"/>
<circle cx="210.8" cy="224.9" r="0.8" fill="#2c1c80" stroke="none" stroke-width="1" opacity="0.6"/>
</g>
<clipPath id="clipc178"><rect x="142.2" y="178.0" width="74.20000000000002" height="62.599999999999994"/></clipPath>
<rect x="142.2" y="256.2" width="74.2" height="63.3" fill="#dcdcd0" stroke="none" stroke-width="1" />
<g clip-path="url(#clipc256)">
<circle cx="153.9" cy="275.6" r="7.3" fill="#eceaf4" stroke="none" stroke-width="1" />
<circle cx="153.9" cy="275.6" r="6.0" fill="url(#cellg)" stroke="none" stroke-width="1" />
<circle cx="151.8" cy="276.8" r="1.8" fill="#2c1c80" stroke="none" stroke-width="1" opacity="0.75"/>
<circle cx="156.0" cy="274.1" r="1.7" fill="#2c1c80" stroke="none" stroke-width="1" opacity="0.7"/>
<circle cx="155.1" cy="278.3" r="1.3" fill="#2c1c80" stroke="none" stroke-width="1" opacity="0.6"/>
<circle cx="162.9" cy="274.6" r="4.3" fill="#eceaf4" stroke="none" stroke-width="1" />
<circle cx="162.9" cy="274.6" r="3.0" fill="url(#cellg)" stroke="none" stroke-width="1" />
<circle cx="161.8" cy="275.2" r="0.9" fill="#2c1c80" stroke="none" stroke-width="1" opacity="0.75"/>
<circle cx="164.0" cy="273.9" r="0.8" fill="#2c1c80" stroke="none" stroke-width="1" opacity="0.7"/>
<circle cx="163.5" cy="276.0" r="0.7" fill="#2c1c80" stroke="none" stroke-width="1" opacity="0.6"/>
<circle cx="149.9" cy="288.9" r="6.3" fill="#eceaf4" stroke="none" stroke-width="1" />
<circle cx="149.9" cy="288.9" r="5.0" fill="url(#cellg)" stroke="none" stroke-width="1" />
<circle cx="148.2" cy="289.9" r="1.5" fill="#2c1c80" stroke="none" stroke-width="1" opacity="0.75"/>
<circle cx="151.7" cy="287.6" r="1.4" fill="#2c1c80" stroke="none" stroke-width="1" opacity="0.7"/>
<circle cx="150.9" cy="291.1" r="1.1" fill="#2c1c80" stroke="none" stroke-width="1" opacity="0.6"/>
<circle cx="160.3" cy="291.5" r="5.3" fill="#eceaf4" stroke="none" stroke-width="1" />
<circle cx="160.3" cy="291.5" r="4.0" fill="url(#cellg)" stroke="none" stroke-width="1" />
<circle cx="158.9" cy="292.3" r="1.2" fill="#2c1c80" stroke="none" stroke-width="1" opacity="0.75"/>
<circle cx="161.7" cy="290.5" r="1.1" fill="#2c1c80" stroke="none" stroke-width="1" opacity="0.7"/>
<circle cx="161.1" cy="293.3" r="0.9" fill="#2c1c80" stroke="none" stroke-width="1" opacity="0.6"/>
<circle cx="168.9" cy="290.1" r="6.3" fill="#eceaf4" stroke="none" stroke-width="1" />
<circle cx="168.9" cy="290.1" r="5.0" fill="url(#cellg)" stroke="none" stroke-width="1" />
<circle cx="167.2" cy="291.1" r="1.5" fill="#2c1c80" stroke="none" stroke-width="1" opacity="0.75"/>
<circle cx="170.7" cy="288.9" r="1.4" fill="#2c1c80" stroke="none" stroke-width="1" opacity="0.7"/>
<circle cx="169.9" cy="292.4" r="1.1" fill="#2c1c80" stroke="none" stroke-width="1" opacity="0.6"/>
<circle cx="152.5" cy="296.4" r="4.0" fill="#a85aa6" stroke="none" stroke-width="1" opacity="0.9" filter="url(#sblur)"/>
<circle cx="148.2" cy="305.0" r="5.3" fill="#eceaf4" stroke="none" stroke-width="1" />
<circle cx="148.2" cy="305.0" r="4.0" fill="url(#cellg)" stroke="none" stroke-width="1" />
<circle cx="146.8" cy="305.8" r="1.2" fill="#2c1c80" stroke="none" stroke-width="1" opacity="0.75"/>
<circle cx="149.6" cy="304.0" r="1.1" fill="#2c1c80" stroke="none" stroke-width="1" opacity="0.7"/>
<circle cx="149.0" cy="306.8" r="0.9" fill="#2c1c80" stroke="none" stroke-width="1" opacity="0.6"/>
<circle cx="167.2" cy="313.7" r="6.8" fill="#eceaf4" stroke="none" stroke-width="1" />
<circle cx="167.2" cy="313.7" r="5.5" fill="url(#cellg)" stroke="none" stroke-width="1" />
<circle cx="165.3" cy="314.8" r="1.6" fill="#2c1c80" stroke="none" stroke-width="1" opacity="0.75"/>
<circle cx="169.1" cy="312.3" r="1.5" fill="#2c1c80" stroke="none" stroke-width="1" opacity="0.7"/>
<circle cx="168.3" cy="316.2" r="1.2" fill="#2c1c80" stroke="none" stroke-width="1" opacity="0.6"/>
<circle cx="176.7" cy="277.7" r="4.8" fill="#eceaf4" stroke="none" stroke-width="1" />
<circle cx="176.7" cy="277.7" r="3.5" fill="url(#cellg)" stroke="none" stroke-width="1" />
<circle cx="175.5" cy="278.4" r="1.1" fill="#2c1c80" stroke="none" stroke-width="1" opacity="0.75"/>
<circle cx="177.9" cy="276.8" r="1.0" fill="#2c1c80" stroke="none" stroke-width="1" opacity="0.7"/>
<circle cx="177.4" cy="279.3" r="0.8" fill="#2c1c80" stroke="none" stroke-width="1" opacity="0.6"/>
<circle cx="187.1" cy="276.0" r="4.3" fill="#eceaf4" stroke="none" stroke-width="1" />
<circle cx="187.1" cy="276.0" r="3.0" fill="url(#cellg)" stroke="none" stroke-width="1" />
<circle cx="186.0" cy="276.6" r="0.9" fill="#2c1c80" stroke="none" stroke-width="1" opacity="0.75"/>
<circle cx="188.2" cy="275.2" r="0.8" fill="#2c1c80" stroke="none" stroke-width="1" opacity="0.7"/>
<circle cx="187.7" cy="277.4" r="0.7" fill="#2c1c80" stroke="none" stroke-width="1" opacity="0.6"/>
<circle cx="194.0" cy="271.6" r="5.3" fill="#eceaf4" stroke="none" stroke-width="1" />
<circle cx="194.0" cy="271.6" r="4.0" fill="url(#cellg)" stroke="none" stroke-width="1" />
<circle cx="192.6" cy="272.4" r="1.2" fill="#2c1c80" stroke="none" stroke-width="1" opacity="0.75"/>
<circle cx="195.4" cy="270.6" r="1.1" fill="#2c1c80" stroke="none" stroke-width="1" opacity="0.7"/>
<circle cx="194.8" cy="273.4" r="0.9" fill="#2c1c80" stroke="none" stroke-width="1" opacity="0.6"/>
<circle cx="184.5" cy="288.1" r="5.3" fill="#eceaf4" stroke="none" stroke-width="1" />
<circle cx="184.5" cy="288.1" r="4.0" fill="url(#cellg)" stroke="none" stroke-width="1" />
<circle cx="183.1" cy="288.9" r="1.2" fill="#2c1c80" stroke="none" stroke-width="1" opacity="0.75"/>
<circle cx="185.9" cy="287.1" r="1.1" fill="#2c1c80" stroke="none" stroke-width="1" opacity="0.7"/>
<circle cx="185.3" cy="289.9" r="0.9" fill="#2c1c80" stroke="none" stroke-width="1" opacity="0.6"/>
<circle cx="189.7" cy="292.9" r="5.8" fill="#eceaf4" stroke="none" stroke-width="1" />
<circle cx="189.7" cy="292.9" r="4.5" fill="url(#cellg)" stroke="none" stroke-width="1" />
<circle cx="188.1" cy="293.8" r="1.3" fill="#2c1c80" stroke="none" stroke-width="1" opacity="0.75"/>
<circle cx="191.3" cy="291.8" r="1.3" fill="#2c1c80" stroke="none" stroke-width="1" opacity="0.7"/>
<circle cx="190.6" cy="294.9" r="1.0" fill="#2c1c80" stroke="none" stroke-width="1" opacity="0.6"/>
<circle cx="195.7" cy="286.3" r="5.8" fill="#eceaf4" stroke="none" stroke-width="1" />
<circle cx="195.7" cy="286.3" r="4.5" fill="url(#cellg)" stroke="none" stroke-width="1" />
<circle cx="194.1" cy="287.2" r="1.3" fill="#2c1c80" stroke="none" stroke-width="1" opacity="0.75"/>
<circle cx="197.3" cy="285.2" r="1.3" fill="#2c1c80" stroke="none" stroke-width="1" opacity="0.7"/>
<circle cx="196.6" cy="288.3" r="1.0" fill="#2c1c80" stroke="none" stroke-width="1" opacity="0.6"/>
<circle cx="198.3" cy="294.1" r="5.3" fill="#eceaf4" stroke="none" stroke-width="1" />
<circle cx="198.3" cy="294.1" r="4.0" fill="url(#cellg)" stroke="none" stroke-width="1" />
<circle cx="196.9" cy="294.9" r="1.2" fill="#2c1c80" stroke="none" stroke-width="1" opacity="0.75"/>
<circle cx="199.7" cy="293.1" r="1.1" fill="#2c1c80" stroke="none" stroke-width="1" opacity="0.7"/>
<circle cx="199.1" cy="295.9" r="0.9" fill="#2c1c80" stroke="none" stroke-width="1" opacity="0.6"/>
<circle cx="209.6" cy="288.1" r="4.5" fill="#a85aa6" stroke="none" stroke-width="1" opacity="0.9" filter="url(#sblur)"/>
<circle cx="188.8" cy="263.8" r="3.5" fill="#b4a6c6" stroke="none" stroke-width="1" opacity="0.9" filter="url(#sblur)"/>
<circle cx="204.4" cy="260.4" r="3.5" fill="#b4a6c6" stroke="none" stroke-width="1" opacity="0.9" filter="url(#sblur)"/>
<circle cx="193.1" cy="315.4" r="5.8" fill="#eceaf4" stroke="none" stroke-width="1" />
<circle cx="193.1" cy="315.4" r="4.5" fill="url(#cellg)" stroke="none" stroke-width="1" />
<circle cx="191.5" cy="316.3" r="1.3" fill="#2c1c80" stroke="none" stroke-width="1" opacity="0.75"/>
<circle cx="194.7" cy="314.3" r="1.3" fill="#2c1c80" stroke="none" stroke-width="1" opacity="0.7"/>
<circle cx="194.0" cy="317.4" r="1.0" fill="#2c1c80" stroke="none" stroke-width="1" opacity="0.6"/>
<circle cx="180.2" cy="281.1" r="4.0" fill="#a85aa6" stroke="none" stroke-width="1" opacity="0.9" filter="url(#sblur)"/>
</g>
<clipPath id="clipc256"><rect x="142.2" y="256.2" width="74.20000000000002" height="63.30000000000001"/></clipPath>
<text x="242.6" y="12.3" font-size="14.5" font-weight="bold" text-anchor="start" fill="#000" >B</text>
<line x1="283.3" y1="4.6" x2="283.3" y2="113.0" stroke="#868686" stroke-width="1.1" />
<line x1="283.3" y1="113.0" x2="401.4" y2="113.0" stroke="#868686" stroke-width="1.1" />
<line x1="280.3" y1="113.0" x2="283.3" y2="113.0" stroke="#868686" stroke-width="1" />
<text x="277.6" y="115.8" font-size="8.2" font-weight="bold" text-anchor="end" fill="#000" textLength="3.9" lengthAdjust="spacingAndGlyphs" >0</text>
<line x1="280.3" y1="85.9" x2="283.3" y2="85.9" stroke="#868686" stroke-width="1" />
<text x="277.6" y="88.7" font-size="8.2" font-weight="bold" text-anchor="end" fill="#000" textLength="7.8" lengthAdjust="spacingAndGlyphs" >50</text>
<line x1="280.3" y1="58.9" x2="283.3" y2="58.9" stroke="#868686" stroke-width="1" />
<text x="277.6" y="61.6" font-size="8.2" font-weight="bold" text-anchor="end" fill="#000" textLength="11.6" lengthAdjust="spacingAndGlyphs" >100</text>
<line x1="280.3" y1="31.8" x2="283.3" y2="31.8" stroke="#868686" stroke-width="1" />
<text x="277.6" y="34.6" font-size="8.2" font-weight="bold" text-anchor="end" fill="#000" textLength="11.6" lengthAdjust="spacingAndGlyphs" >150</text>
<line x1="280.3" y1="4.7" x2="283.3" y2="4.7" stroke="#868686" stroke-width="1" />
<text x="277.6" y="7.5" font-size="8.2" font-weight="bold" text-anchor="end" fill="#000" textLength="11.6" lengthAdjust="spacingAndGlyphs" >200</text>
<line x1="283.3" y1="113.0" x2="283.3" y2="116.0" stroke="#868686" stroke-width="1" />
<text x="283.3" y="125.6" font-size="8.2" font-weight="bold" text-anchor="middle" fill="#000" textLength="3.9" lengthAdjust="spacingAndGlyphs" >0</text>
<line x1="322.7" y1="113.0" x2="322.7" y2="116.0" stroke="#868686" stroke-width="1" />
<text x="322.7" y="125.6" font-size="8.2" font-weight="bold" text-anchor="middle" fill="#000" textLength="3.9" lengthAdjust="spacingAndGlyphs" >1</text>
<line x1="362.0" y1="113.0" x2="362.0" y2="116.0" stroke="#868686" stroke-width="1" />
<text x="362.0" y="125.6" font-size="8.2" font-weight="bold" text-anchor="middle" fill="#000" textLength="3.9" lengthAdjust="spacingAndGlyphs" >2</text>
<line x1="401.4" y1="113.0" x2="401.4" y2="116.0" stroke="#868686" stroke-width="1" />
<text x="401.4" y="125.6" font-size="8.2" font-weight="bold" text-anchor="middle" fill="#000" textLength="3.9" lengthAdjust="spacingAndGlyphs" >3</text>
<text x="337.0" y="139.6" font-size="8.6" font-weight="normal" text-anchor="middle" fill="#000" textLength="55.5" lengthAdjust="spacingAndGlyphs" class="hv">Days in culture</text>
<text transform="translate(256.4,78.5) rotate(-90)" x="0" y="0" font-size="8.6" font-weight="normal" text-anchor="middle" fill="#000" textLength="62.0" lengthAdjust="spacingAndGlyphs" class="hv">Proliferation fold</text>
<line x1="401.4" y1="31.8" x2="401.4" y2="6.1" stroke="#7a5a7a" stroke-width="0.9" />
<line x1="399.2" y1="31.8" x2="403.6" y2="31.8" stroke="#7a5a7a" stroke-width="0.9" />
<line x1="399.2" y1="6.1" x2="403.6" y2="6.1" stroke="#7a5a7a" stroke-width="0.9" />
<line x1="401.4" y1="41.2" x2="401.4" y2="9.2" stroke="#8a4a5a" stroke-width="0.9" />
<line x1="399.2" y1="41.2" x2="403.6" y2="41.2" stroke="#8a4a5a" stroke-width="0.9" />
<line x1="399.2" y1="9.2" x2="403.6" y2="9.2" stroke="#8a4a5a" stroke-width="0.9" />
<line x1="401.4" y1="43.8" x2="401.4" y2="11.5" stroke="#7a5a6a" stroke-width="0.9" />
<line x1="399.2" y1="43.8" x2="403.6" y2="43.8" stroke="#7a5a6a" stroke-width="0.9" />
<line x1="399.2" y1="11.5" x2="403.6" y2="11.5" stroke="#7a5a6a" stroke-width="0.9" />
<line x1="401.4" y1="20.9" x2="401.4" y2="16.2" stroke="#6a6a5a" stroke-width="0.9" />
<line x1="399.2" y1="20.9" x2="403.6" y2="20.9" stroke="#6a6a5a" stroke-width="0.9" />
<line x1="399.2" y1="16.2" x2="403.6" y2="16.2" stroke="#6a6a5a" stroke-width="0.9" />
<polyline points="283.3,112.5 322.7,108.1 362.0,88.6 401.4,20.9" fill="none" stroke="#4f81bd" stroke-width="3.5" stroke-linejoin="round" />
<polyline points="283.3,112.5 322.7,108.1 362.0,91.3 401.4,22.6" fill="none" stroke="#8064a2" stroke-width="3.5" stroke-linejoin="round" />
<polyline points="283.3,111.9 322.7,107.0 362.0,84.8 401.4,17.2" fill="none" stroke="#9bbb59" stroke-width="3.5" stroke-linejoin="round" />
<polyline points="283.3,112.5 322.7,108.1 362.0,89.7 401.4,24.2" fill="none" stroke="#c0504d" stroke-width="3.5" stroke-linejoin="round" />
<line x1="294.2" y1="9.7" x2="319.6" y2="9.7" stroke="#4f81bd" stroke-width="3.2" />
<text x="321.8" y="12.4" font-size="7.7" font-weight="bold" text-anchor="start" fill="#1a1a1a" >pMYs.IB/IP</text>
<line x1="294.2" y1="20.8" x2="319.6" y2="20.8" stroke="#8064a2" stroke-width="3.2" />
<text x="321.8" y="23.5" font-size="7.7" font-weight="bold" text-anchor="start" fill="#1a1a1a" >pMYs.IB/BMI1</text>
<line x1="294.2" y1="31.9" x2="319.6" y2="31.9" stroke="#9bbb59" stroke-width="3.2" />
<text x="321.8" y="34.6" font-size="7.7" font-weight="bold" text-anchor="start" fill="#1a1a1a" >D171N/pMYs.IP</text>
<line x1="294.2" y1="43.0" x2="319.6" y2="43.0" stroke="#c0504d" stroke-width="3.2" />
<text x="321.8" y="45.7" font-size="7.7" font-weight="bold" text-anchor="start" fill="#1a1a1a" >D171N/BMI1</text>
<text x="237.6" y="178.8" font-size="14.5" font-weight="bold" text-anchor="start" fill="#000" >C</text>
<line x1="283.8" y1="174.4" x2="283.8" y2="286.0" stroke="#868686" stroke-width="1.1" />
<line x1="283.8" y1="286.0" x2="402.4" y2="286.0" stroke="#868686" stroke-width="1.1" />
<line x1="280.8" y1="286.0" x2="283.8" y2="286.0" stroke="#868686" stroke-width="1" />
<text x="278.0" y="288.8" font-size="8.2" font-weight="bold" text-anchor="end" fill="#000" textLength="3.9" lengthAdjust="spacingAndGlyphs" >0</text>
<line x1="280.8" y1="263.7" x2="283.8" y2="263.7" stroke="#868686" stroke-width="1" />
<text x="278.0" y="266.5" font-size="8.2" font-weight="bold" text-anchor="end" fill="#000" textLength="7.8" lengthAdjust="spacingAndGlyphs" >20</text>
<line x1="280.8" y1="241.4" x2="283.8" y2="241.4" stroke="#868686" stroke-width="1" />
<text x="278.0" y="244.2" font-size="8.2" font-weight="bold" text-anchor="end" fill="#000" textLength="7.8" lengthAdjust="spacingAndGlyphs" >40</text>
<line x1="280.8" y1="219.0" x2="283.8" y2="219.0" stroke="#868686" stroke-width="1" />
<text x="278.0" y="221.8" font-size="8.2" font-weight="bold" text-anchor="end" fill="#000" textLength="7.8" lengthAdjust="spacingAndGlyphs" >60</text>
<line x1="280.8" y1="196.7" x2="283.8" y2="196.7" stroke="#868686" stroke-width="1" />
<text x="278.0" y="199.5" font-size="8.2" font-weight="bold" text-anchor="end" fill="#000" textLength="7.8" lengthAdjust="spacingAndGlyphs" >80</text>
<line x1="280.8" y1="174.4" x2="283.8" y2="174.4" stroke="#868686" stroke-width="1" />
<text x="278.0" y="177.2" font-size="8.2" font-weight="bold" text-anchor="end" fill="#000" textLength="11.6" lengthAdjust="spacingAndGlyphs" >100</text>
<line x1="283.8" y1="286.0" x2="283.8" y2="289.0" stroke="#868686" stroke-width="1" />
<text x="283.8" y="298.4" font-size="8.2" font-weight="bold" text-anchor="middle" fill="#000" textLength="3.9" lengthAdjust="spacingAndGlyphs" >0</text>
<line x1="323.3" y1="286.0" x2="323.3" y2="289.0" stroke="#868686" stroke-width="1" />
<text x="323.3" y="298.4" font-size="8.2" font-weight="bold" text-anchor="middle" fill="#000" textLength="7.8" lengthAdjust="spacingAndGlyphs" >12</text>
<line x1="362.9" y1="286.0" x2="362.9" y2="289.0" stroke="#868686" stroke-width="1" />
<text x="362.9" y="298.4" font-size="8.2" font-weight="bold" text-anchor="middle" fill="#000" textLength="7.8" lengthAdjust="spacingAndGlyphs" >24</text>
<line x1="402.4" y1="286.0" x2="402.4" y2="289.0" stroke="#868686" stroke-width="1" />
<text x="402.4" y="298.4" font-size="8.2" font-weight="bold" text-anchor="middle" fill="#000" textLength="7.8" lengthAdjust="spacingAndGlyphs" >36</text>
<text x="341.5" y="314.8" font-size="8.6" font-weight="normal" text-anchor="middle" fill="#000" textLength="59.0" lengthAdjust="spacingAndGlyphs" class="hv">Hours in culture</text>
<text transform="translate(260.6,239.3) rotate(-90)" x="0" y="0" font-size="8.6" font-weight="normal" text-anchor="middle" fill="#000" textLength="110.0" lengthAdjust="spacingAndGlyphs" class="hv">Annexin V positive cells&#160;&#160;(%)</text>
<line x1="362.9" y1="246.9" x2="362.9" y2="235.8" stroke="#9bbb59" stroke-width="0.9" />
<line x1="360.7" y1="246.9" x2="365.1" y2="246.9" stroke="#9bbb59" stroke-width="0.9" />
<line x1="360.7" y1="235.8" x2="365.1" y2="235.8" stroke="#9bbb59" stroke-width="0.9" />
<line x1="402.4" y1="234.7" x2="402.4" y2="220.2" stroke="#a05060" stroke-width="0.9" />
<line x1="400.2" y1="234.7" x2="404.6" y2="234.7" stroke="#a05060" stroke-width="0.9" />
<line x1="400.2" y1="220.2" x2="404.6" y2="220.2" stroke="#a05060" stroke-width="0.9" />
<line x1="362.9" y1="264.8" x2="362.9" y2="259.2" stroke="#8064a2" stroke-width="0.9" />
<line x1="360.7" y1="264.8" x2="365.1" y2="264.8" stroke="#8064a2" stroke-width="0.9" />
<line x1="360.7" y1="259.2" x2="365.1" y2="259.2" stroke="#8064a2" stroke-width="0.9" />
<line x1="362.9" y1="260.3" x2="362.9" y2="254.8" stroke="#c0504d" stroke-width="0.9" />
<line x1="360.7" y1="260.3" x2="365.1" y2="260.3" stroke="#c0504d" stroke-width="0.9" />
<line x1="360.7" y1="254.8" x2="365.1" y2="254.8" stroke="#c0504d" stroke-width="0.9" />
<polyline points="283.8,283.8 323.3,278.2 362.9,262.6 402.4,217.9" fill="none" stroke="#8064a2" stroke-width="3.6" stroke-linejoin="round" />
<polyline points="283.8,283.8 323.3,277.1 362.9,261.4 402.4,213.5" fill="none" stroke="#4f81bd" stroke-width="3.6" stroke-linejoin="round" />
<polyline points="283.8,280.4 323.3,267.0 362.9,241.4 402.4,199.0" fill="none" stroke="#9bbb59" stroke-width="3.6" stroke-linejoin="round" />
<polyline points="283.8,283.8 323.3,276.0 362.9,258.1 402.4,224.6" fill="none" stroke="#c0504d" stroke-width="3.6" stroke-linejoin="round" />
<line x1="294.6" y1="180.4" x2="320.0" y2="180.4" stroke="#4f81bd" stroke-width="3.2" />
<text x="321.2" y="183.1" font-size="7.7" font-weight="bold" text-anchor="start" fill="#1a1a1a" >pMYs.IB/IP</text>
<line x1="294.6" y1="190.3" x2="320.0" y2="190.3" stroke="#8064a2" stroke-width="3.2" />
<text x="321.2" y="193.0" font-size="7.7" font-weight="bold" text-anchor="start" fill="#1a1a1a" >pMYs.IB/BMI1</text>
<line x1="294.6" y1="200.0" x2="320.0" y2="200.0" stroke="#9bbb59" stroke-width="3.2" />
<text x="321.2" y="202.7" font-size="7.7" font-weight="bold" text-anchor="start" fill="#1a1a1a" >D171N/pMYs.IP</text>
<line x1="294.6" y1="210.0" x2="320.0" y2="210.0" stroke="#c0504d" stroke-width="3.2" />
<text x="321.2" y="212.7" font-size="7.7" font-weight="bold" text-anchor="start" fill="#1a1a1a" >D171N/BMI1</text>
<text x="3.2" y="345.6" font-size="13.4" font-weight="bold" text-anchor="start" fill="#000" >D</text>
<text x="54.6" y="342.2" font-size="6.2" font-weight="bold" text-anchor="end" fill="#000" textLength="24.6" lengthAdjust="spacingAndGlyphs" >pMXs.IG</text>
<text x="54.6" y="353.9" font-size="6.2" font-weight="bold" text-anchor="end" fill="#000" textLength="24.2" lengthAdjust="spacingAndGlyphs" >pMXs.IR</text>
<text x="68.0" y="342.0" font-size="6.2" font-weight="bold" text-anchor="middle" fill="#000" >-</text>
<text x="91.2" y="342.0" font-size="6.2" font-weight="bold" text-anchor="middle" fill="#000" >-</text>
<text x="114.5" y="342.2" font-size="6.2" font-weight="bold" text-anchor="middle" fill="#000" textLength="19.9" lengthAdjust="spacingAndGlyphs" >D171N</text>
<text x="138.6" y="342.2" font-size="6.2" font-weight="bold" text-anchor="middle" fill="#000" textLength="19.9" lengthAdjust="spacingAndGlyphs" >D171N</text>
<text x="68.0" y="353.7" font-size="6.2" font-weight="bold" text-anchor="middle" fill="#000" >-</text>
<text x="114.0" y="353.7" font-size="6.2" font-weight="bold" text-anchor="middle" fill="#000" >-</text>
<text x="91.0" y="353.9" font-size="6.2" font-weight="bold" text-anchor="middle" fill="#000" textLength="14.4" lengthAdjust="spacingAndGlyphs" >BMI1</text>
<text x="138.6" y="353.9" font-size="6.2" font-weight="bold" text-anchor="middle" fill="#000" textLength="14.4" lengthAdjust="spacingAndGlyphs" >BMI1</text>
<text x="49.5" y="369.9" font-size="7.2" font-weight="bold" text-anchor="end" fill="#000" textLength="32.9" lengthAdjust="spacingAndGlyphs" >anti-Bmi-1</text>
<text x="49.0" y="391.1" font-size="7.2" font-weight="bold" text-anchor="end" fill="#000" textLength="46.2" lengthAdjust="spacingAndGlyphs" >anti-FLAG M2</text>
<text x="49.0" y="413.3" font-size="7.2" font-weight="bold" text-anchor="end" fill="#000" textLength="35.2" lengthAdjust="spacingAndGlyphs" >anti-&#946;-actin</text>
<text x="69.8" y="429.6" font-size="7.9" font-weight="bold" text-anchor="middle" fill="#000" >1</text>
<text x="92.4" y="429.6" font-size="7.9" font-weight="bold" text-anchor="middle" fill="#000" >2</text>
<text x="115.8" y="429.6" font-size="7.9" font-weight="bold" text-anchor="middle" fill="#000" >3</text>
<text x="138.9" y="429.6" font-size="7.9" font-weight="bold" text-anchor="middle" fill="#000" >4</text>
<defs><filter id="blur1" x="-20%" y="-50%" width="140%" height="200%"><feGaussianBlur stdDeviation="0.9"/></filter><filter id="blur2" x="-20%" y="-50%" width="140%" height="200%"><feGaussianBlur stdDeviation="0.6"/></filter></defs>
<rect x="55.2" y="358.0" width="94.8" height="17.6" fill="#e0e0e0" stroke="none" stroke-width="1" />
<rect x="55.2" y="358.0" width="94.8" height="5.0" fill="#e6e6e6" stroke="none" stroke-width="1" filter="url(#blur1)"/>
<rect x="55.2" y="379.1" width="94.8" height="18.2" fill="#d9d9d9" stroke="none" stroke-width="1" />
<rect x="55.2" y="401.1" width="94.8" height="17.9" fill="#d2d2d2" stroke="none" stroke-width="1" />
<rect x="55.2" y="401.1" width="94.8" height="4.0" fill="#dadada" stroke="none" stroke-width="1" filter="url(#blur1)"/>
<clipPath id="blotclip"><rect x="55.2" y="358" width="94.8" height="61"/></clipPath><g clip-path="url(#blotclip)">
<rect x="57.8" y="364.3" width="18.2" height="3.8" rx="2.5" fill="#b0b0b0" opacity="1" filter="url(#blur1)"/>
<rect x="80.8" y="365.7" width="18.3" height="5.4" rx="2.5" fill="#161616" opacity="1" filter="url(#blur1)"/>
<rect x="104.9" y="366.7" width="18.3" height="2.6" rx="2.5" fill="#bcbcbc" opacity="1" filter="url(#blur1)"/>
<rect x="128.9" y="365.8" width="18.3" height="5.4" rx="2.5" fill="#121212" opacity="1" filter="url(#blur1)"/>
<rect x="104.9" y="387.1" width="19.2" height="4.2" rx="2.5" fill="#6c6c6c" opacity="1" filter="url(#blur1)"/>
<rect x="128.5" y="386.9" width="18.7" height="4.2" rx="2.5" fill="#646464" opacity="1" filter="url(#blur1)"/>
<rect x="56.8" y="406.1" width="24.0" height="7.8" rx="3.5" fill="#121212" opacity="1" filter="url(#blur1)"/>
<rect x="81.8" y="406.3" width="22.2" height="7.8" rx="3.5" fill="#121212" opacity="1" filter="url(#blur1)"/>
<rect x="106.3" y="407.1" width="20.2" height="7.8" rx="3.5" fill="#121212" opacity="1" filter="url(#blur1)"/>
<rect x="127.2" y="406.5" width="21.9" height="7.8" rx="3.5" fill="#121212" opacity="1" filter="url(#blur1)"/>
</g>
<text x="183.6" y="351.2" font-size="13.5" font-weight="bold" text-anchor="start" fill="#000" >E</text>
<line x1="219.6" y1="357.2" x2="219.6" y2="471.0" stroke="#555" stroke-width="0.9" />
<line x1="219.6" y1="471.0" x2="490.5" y2="471.0" stroke="#555" stroke-width="0.9" />
<line x1="490.5" y1="357.8" x2="490.5" y2="471.0" stroke="#555" stroke-width="0.9" />
<line x1="217.4" y1="471.0" x2="219.6" y2="471.0" stroke="#555" stroke-width="0.8" />
<text x="212.6" y="473.6" font-size="7.6" font-weight="bold" text-anchor="end" fill="#000" >0</text>
<line x1="217.4" y1="448.2" x2="219.6" y2="448.2" stroke="#555" stroke-width="0.8" />
<text x="212.6" y="450.8" font-size="7.6" font-weight="bold" text-anchor="end" fill="#000" textLength="13.0" lengthAdjust="spacingAndGlyphs" >100</text>
<line x1="217.4" y1="425.5" x2="219.6" y2="425.5" stroke="#555" stroke-width="0.8" />
<text x="212.6" y="428.1" font-size="7.6" font-weight="bold" text-anchor="end" fill="#000" textLength="13.0" lengthAdjust="spacingAndGlyphs" >200</text>
<line x1="217.4" y1="402.7" x2="219.6" y2="402.7" stroke="#555" stroke-width="0.8" />
<text x="212.6" y="405.3" font-size="7.6" font-weight="bold" text-anchor="end" fill="#000" textLength="13.0" lengthAdjust="spacingAndGlyphs" >300</text>
<line x1="217.4" y1="380.0" x2="219.6" y2="380.0" stroke="#555" stroke-width="0.8" />
<text x="212.6" y="382.6" font-size="7.6" font-weight="bold" text-anchor="end" fill="#000" textLength="13.0" lengthAdjust="spacingAndGlyphs" >400</text>
<line x1="217.4" y1="357.2" x2="219.6" y2="357.2" stroke="#555" stroke-width="0.8" />
<text x="212.6" y="359.8" font-size="7.6" font-weight="bold" text-anchor="end" fill="#000" textLength="13.0" lengthAdjust="spacingAndGlyphs" >500</text>
<line x1="490.5" y1="471.0" x2="492.7" y2="471.0" stroke="#555" stroke-width="0.8" />
<text x="494.5" y="473.4" font-size="6.8" font-weight="bold" fill="#000">10<tspan font-size="4.6" dy="-2.8">4</tspan></text>
<line x1="490.5" y1="433.2" x2="492.7" y2="433.2" stroke="#555" stroke-width="0.8" />
<text x="494.5" y="435.6" font-size="6.8" font-weight="bold" fill="#000">10<tspan font-size="4.6" dy="-2.8">5</tspan></text>
<line x1="490.5" y1="395.5" x2="492.7" y2="395.5" stroke="#555" stroke-width="0.8" />
<text x="494.5" y="397.9" font-size="6.8" font-weight="bold" fill="#000">10<tspan font-size="4.6" dy="-2.8">6</tspan></text>
<line x1="490.5" y1="357.8" x2="492.7" y2="357.8" stroke="#555" stroke-width="0.8" />
<text x="494.5" y="360.1" font-size="6.8" font-weight="bold" fill="#000">10<tspan font-size="4.6" dy="-2.8">7</tspan></text>
<text transform="translate(195.4,415.6) rotate(-90)" text-anchor="middle" font-size="7.7" font-weight="bold" textLength="83.6" lengthAdjust="spacingAndGlyphs">Colonies per 10<tspan font-size="5" dy="-3">4</tspan><tspan dy="3"> cells</tspan></text>
<text transform="translate(519.2,407.5) rotate(-90)" x="0" y="0" font-size="7.7" font-weight="bold" text-anchor="middle" fill="#000" textLength="67.0" lengthAdjust="spacingAndGlyphs" >Total cell number</text>
<rect x="397.5" y="329.2" width="22.9" height="4.4" fill="#222" stroke="#000" stroke-width="0.6" />
<rect x="397.5" y="337.1" width="22.9" height="4.1" fill="#c4c4c4" stroke="#333" stroke-width="0.6" />
<rect x="397.5" y="346.6" width="22.9" height="4.0" fill="#fff" stroke="#333" stroke-width="0.6" />
<line x1="397.0" y1="358.2" x2="420.4" y2="358.2" stroke="#000" stroke-width="0.8" />
<circle cx="408.8" cy="358.2" r="2.5" fill="#000" stroke="none" stroke-width="1" />
<text x="422.3" y="333.1" font-size="7.7" font-weight="normal" text-anchor="start" fill="#000" >GEMM</text>
<text x="422.3" y="342.0" font-size="7.7" font-weight="normal" text-anchor="start" fill="#000" >CFU-GM</text>
<text x="422.3" y="351.4" font-size="7.7" font-weight="normal" text-anchor="start" fill="#000" >BFU-E</text>
<text x="422.3" y="360.9" font-size="7.7" font-weight="normal" text-anchor="start" fill="#000" textLength="58.0" lengthAdjust="spacingAndGlyphs" >Total cell number</text>
<line x1="243.9" y1="381.1" x2="243.9" y2="405.1" stroke="#333" stroke-width="0.8" />
<line x1="241.4" y1="381.1" x2="246.4" y2="381.1" stroke="#333" stroke-width="0.8" />
<rect x="236.1" y="405.1" width="15.7" height="65.9" fill="#fff" stroke="#555" stroke-width="0.7" />
<rect x="236.1" y="405.1" width="15.7" height="16.1" fill="#c4c4c4" stroke="#444" stroke-width="0.7" />
<line x1="235.8" y1="405.6" x2="252.1" y2="405.6" stroke="#000" stroke-width="1.6" />
<rect x="252.3" y="470.2" width="14.7" height="0.8" fill="#d0d0d0" stroke="#555" stroke-width="0.7" />
<line x1="227.8" y1="471.0" x2="243.5" y2="390.6" stroke="#000" stroke-width="1.1" />
<polyline points="243.5,390.6 259.2,386.0" fill="none" stroke="#000" stroke-width="1.0" stroke-linejoin="round" />
<line x1="243.5" y1="376.6" x2="243.5" y2="390.6" stroke="#333" stroke-width="0.8" />
<line x1="241.0" y1="376.6" x2="246.0" y2="376.6" stroke="#333" stroke-width="0.8" />
<line x1="259.2" y1="372.4" x2="259.2" y2="386.0" stroke="#333" stroke-width="0.8" />
<line x1="256.7" y1="372.4" x2="261.7" y2="372.4" stroke="#333" stroke-width="0.8" />
<circle cx="227.8" cy="471.0" r="2.9" fill="#000" stroke="none" stroke-width="1" />
<circle cx="243.5" cy="390.6" r="2.9" fill="#000" stroke="none" stroke-width="1" />
<circle cx="259.2" cy="386.0" r="2.9" fill="#000" stroke="none" stroke-width="1" />
<text x="227.3" y="483.3" font-size="7.3" font-weight="bold" text-anchor="middle" fill="#000" >pre</text>
<text x="244.4" y="483.3" font-size="7.3" font-weight="bold" text-anchor="middle" fill="#000" >1st</text>
<text x="258.8" y="483.3" font-size="7.3" font-weight="bold" text-anchor="middle" fill="#000" >2nd</text>
<text x="244.3" y="491.6" font-size="7.3" font-weight="bold" text-anchor="middle" fill="#000" textLength="37.8" lengthAdjust="spacingAndGlyphs" >pMXs.IG/IR</text>
<rect x="299.4" y="407.7" width="15.0" height="63.3" fill="#fff" stroke="#555" stroke-width="0.7" />
<rect x="299.4" y="407.7" width="15.0" height="24.0" fill="#c4c4c4" stroke="#444" stroke-width="0.7" />
<line x1="299.1" y1="408.2" x2="314.7" y2="408.2" stroke="#000" stroke-width="1.6" />
<line x1="323.2" y1="464.0" x2="323.2" y2="467.0" stroke="#333" stroke-width="0.8" />
<line x1="320.7" y1="464.0" x2="325.7" y2="464.0" stroke="#333" stroke-width="0.8" />
<rect x="316.0" y="467.0" width="14.4" height="4.0" fill="#d0d0d0" stroke="#555" stroke-width="0.7" />
<line x1="338.9" y1="467.0" x2="338.9" y2="468.5" stroke="#333" stroke-width="0.8" />
<line x1="336.4" y1="467.0" x2="341.4" y2="467.0" stroke="#333" stroke-width="0.8" />
<rect x="331.3" y="468.5" width="15.2" height="2.5" fill="#d0d0d0" stroke="#555" stroke-width="0.7" />
<line x1="291.3" y1="471.0" x2="307.1" y2="391.5" stroke="#000" stroke-width="1.1" />
<polyline points="307.1,391.5 323.5,373.0 339.2,364.4" fill="none" stroke="#000" stroke-width="1.0" stroke-linejoin="round" />
<line x1="307.1" y1="381.9" x2="307.1" y2="391.5" stroke="#333" stroke-width="0.8" />
<line x1="304.6" y1="381.9" x2="309.6" y2="381.9" stroke="#333" stroke-width="0.8" />
<line x1="323.5" y1="363.7" x2="323.5" y2="373.0" stroke="#333" stroke-width="0.8" />
<line x1="321.0" y1="363.7" x2="326.0" y2="363.7" stroke="#333" stroke-width="0.8" />
<line x1="339.2" y1="360.2" x2="339.2" y2="364.4" stroke="#333" stroke-width="0.8" />
<line x1="336.7" y1="360.2" x2="341.7" y2="360.2" stroke="#333" stroke-width="0.8" />
<circle cx="291.3" cy="471.0" r="2.9" fill="#000" stroke="none" stroke-width="1" />
<circle cx="307.1" cy="391.5" r="2.9" fill="#000" stroke="none" stroke-width="1" />
<circle cx="323.5" cy="373.0" r="2.9" fill="#000" stroke="none" stroke-width="1" />
<circle cx="339.2" cy="364.4" r="2.9" fill="#000" stroke="none" stroke-width="1" />
<text x="290.8" y="483.3" font-size="7.3" font-weight="bold" text-anchor="middle" fill="#000" >pre</text>
<text x="307.1" y="483.3" font-size="7.3" font-weight="bold" text-anchor="middle" fill="#000" >1st</text>
<text x="322.5" y="483.3" font-size="7.3" font-weight="bold" text-anchor="middle" fill="#000" >2nd</text>
<text x="338.5" y="483.3" font-size="7.3" font-weight="bold" text-anchor="middle" fill="#000" >3rd</text>
<text x="307.4" y="491.6" font-size="7.3" font-weight="bold" text-anchor="middle" fill="#000" textLength="46.8" lengthAdjust="spacingAndGlyphs" >pMXs.IG/BMI1</text>
<line x1="386.9" y1="418.5" x2="386.9" y2="442.9" stroke="#333" stroke-width="0.8" />
<line x1="384.4" y1="418.5" x2="389.4" y2="418.5" stroke="#333" stroke-width="0.8" />
<rect x="379.2" y="442.9" width="15.4" height="28.1" fill="#fff" stroke="#555" stroke-width="0.7" />
<rect x="379.2" y="442.9" width="15.4" height="18.3" fill="#c4c4c4" stroke="#444" stroke-width="0.7" />
<line x1="378.9" y1="443.4" x2="394.9" y2="443.4" stroke="#000" stroke-width="1.6" />
<rect x="395.0" y="470.4" width="15.0" height="0.6" fill="#d0d0d0" stroke="#555" stroke-width="0.7" />
<line x1="371.2" y1="471.0" x2="386.9" y2="405.4" stroke="#000" stroke-width="1.1" />
<polyline points="386.9,405.4 402.9,386.7" fill="none" stroke="#666" stroke-width="0.7" stroke-linejoin="round" />
<line x1="386.9" y1="392.3" x2="386.9" y2="405.4" stroke="#333" stroke-width="0.8" />
<line x1="384.4" y1="392.3" x2="389.4" y2="392.3" stroke="#333" stroke-width="0.8" />
<line x1="402.9" y1="372.3" x2="402.9" y2="386.7" stroke="#333" stroke-width="0.8" />
<line x1="400.4" y1="372.3" x2="405.4" y2="372.3" stroke="#333" stroke-width="0.8" />
<circle cx="371.2" cy="471.0" r="2.9" fill="#000" stroke="none" stroke-width="1" />
<circle cx="386.9" cy="405.4" r="2.9" fill="#000" stroke="none" stroke-width="1" />
<circle cx="402.9" cy="386.7" r="2.9" fill="#000" stroke="none" stroke-width="1" />
<text x="370.2" y="483.3" font-size="7.3" font-weight="bold" text-anchor="middle" fill="#000" >pre</text>
<text x="387.9" y="483.3" font-size="7.3" font-weight="bold" text-anchor="middle" fill="#000" >1st</text>
<text x="402.3" y="483.3" font-size="7.3" font-weight="bold" text-anchor="middle" fill="#000" >2nd</text>
<text x="387.5" y="491.6" font-size="7.3" font-weight="bold" text-anchor="middle" fill="#000" textLength="52.6" lengthAdjust="spacingAndGlyphs" >D171N/pMXs.IR</text>
<line x1="450.9" y1="417.4" x2="450.9" y2="427.7" stroke="#333" stroke-width="0.8" />
<line x1="448.4" y1="417.4" x2="453.4" y2="417.4" stroke="#333" stroke-width="0.8" />
<rect x="443.4" y="427.7" width="14.9" height="43.3" fill="#fff" stroke="#555" stroke-width="0.7" />
<rect x="443.4" y="427.7" width="14.9" height="27.8" fill="#c4c4c4" stroke="#444" stroke-width="0.7" />
<line x1="443.1" y1="428.2" x2="458.6" y2="428.2" stroke="#000" stroke-width="1.6" />
<line x1="466.7" y1="462.3" x2="466.7" y2="466.0" stroke="#333" stroke-width="0.8" />
<line x1="464.2" y1="462.3" x2="469.2" y2="462.3" stroke="#333" stroke-width="0.8" />
<rect x="459.4" y="466.0" width="14.6" height="5.0" fill="#d0d0d0" stroke="#555" stroke-width="0.7" />
<line x1="434.6" y1="471.0" x2="450.8" y2="391.9" stroke="#000" stroke-width="1.1" />
<polyline points="450.8,391.9 466.8,375.8" fill="none" stroke="#666" stroke-width="0.7" stroke-linejoin="round" />
<line x1="450.8" y1="379.6" x2="450.8" y2="391.9" stroke="#333" stroke-width="0.8" />
<line x1="448.3" y1="379.6" x2="453.3" y2="379.6" stroke="#333" stroke-width="0.8" />
<line x1="466.8" y1="365.0" x2="466.8" y2="375.8" stroke="#333" stroke-width="0.8" />
<line x1="464.3" y1="365.0" x2="469.3" y2="365.0" stroke="#333" stroke-width="0.8" />
<circle cx="434.6" cy="471.0" r="2.9" fill="#000" stroke="none" stroke-width="1" />
<circle cx="450.8" cy="391.9" r="2.9" fill="#000" stroke="none" stroke-width="1" />
<circle cx="466.8" cy="375.8" r="2.9" fill="#000" stroke="none" stroke-width="1" />
<text x="434.2" y="483.3" font-size="7.3" font-weight="bold" text-anchor="middle" fill="#000" >pre</text>
<text x="451.0" y="483.3" font-size="7.3" font-weight="bold" text-anchor="middle" fill="#000" >1st</text>
<text x="466.5" y="483.3" font-size="7.3" font-weight="bold" text-anchor="middle" fill="#000" >2nd</text>
<text x="451.0" y="491.6" font-size="7.3" font-weight="bold" text-anchor="middle" fill="#000" textLength="39.5" lengthAdjust="spacingAndGlyphs" >D171N/BMI1</text>
<text x="3.8" y="450.3" font-size="13.3" font-weight="bold" text-anchor="start" fill="#000" >F</text>
<line x1="51.5" y1="443.5" x2="51.5" y2="519.2" stroke="#555" stroke-width="0.9" />
<line x1="51.5" y1="519.2" x2="157.5" y2="519.2" stroke="#555" stroke-width="0.9" />
<line x1="49.5" y1="519.2" x2="51.5" y2="519.2" stroke="#555" stroke-width="0.8" />
<text x="46.3" y="521.9" font-size="7.8" font-weight="normal" text-anchor="end" fill="#000" >0</text>
<line x1="49.5" y1="504.1" x2="51.5" y2="504.1" stroke="#555" stroke-width="0.8" />
<text x="46.3" y="506.8" font-size="7.8" font-weight="normal" text-anchor="end" fill="#000" textLength="13.2" lengthAdjust="spacingAndGlyphs" >100</text>
<line x1="49.5" y1="488.9" x2="51.5" y2="488.9" stroke="#555" stroke-width="0.8" />
<text x="46.3" y="491.6" font-size="7.8" font-weight="normal" text-anchor="end" fill="#000" textLength="13.2" lengthAdjust="spacingAndGlyphs" >200</text>
<line x1="49.5" y1="473.8" x2="51.5" y2="473.8" stroke="#555" stroke-width="0.8" />
<text x="46.3" y="476.5" font-size="7.8" font-weight="normal" text-anchor="end" fill="#000" textLength="13.2" lengthAdjust="spacingAndGlyphs" >300</text>
<line x1="49.5" y1="458.6" x2="51.5" y2="458.6" stroke="#555" stroke-width="0.8" />
<text x="46.3" y="461.3" font-size="7.8" font-weight="normal" text-anchor="end" fill="#000" textLength="13.2" lengthAdjust="spacingAndGlyphs" >400</text>
<line x1="49.5" y1="443.5" x2="51.5" y2="443.5" stroke="#555" stroke-width="0.8" />
<text x="46.3" y="446.2" font-size="7.8" font-weight="normal" text-anchor="end" fill="#000" textLength="13.2" lengthAdjust="spacingAndGlyphs" >500</text>
<text transform="translate(27.4,486.5) rotate(-90)" text-anchor="middle" font-size="7.6" font-weight="bold" textLength="101" lengthAdjust="spacingAndGlyphs">LTC-IC per 10<tspan font-size="5" dy="-3">4</tspan><tspan dy="3"> input cells</tspan></text>
<line x1="65.4" y1="515.3" x2="65.4" y2="517.0" stroke="#333" stroke-width="0.8" />
<line x1="62.4" y1="515.3" x2="68.4" y2="515.3" stroke="#333" stroke-width="0.8" />
<rect x="56.3" y="517.0" width="18.2" height="2.2" fill="#c8c8c8" stroke="#444" stroke-width="0.7" />
<line x1="92.2" y1="506.8" x2="92.2" y2="509.5" stroke="#333" stroke-width="0.8" />
<line x1="89.2" y1="506.8" x2="95.2" y2="506.8" stroke="#333" stroke-width="0.8" />
<rect x="83.0" y="509.5" width="18.5" height="9.7" fill="#c8c8c8" stroke="#444" stroke-width="0.7" />
<line x1="119.4" y1="488.0" x2="119.4" y2="496.5" stroke="#333" stroke-width="0.8" />
<line x1="116.4" y1="488.0" x2="122.4" y2="488.0" stroke="#333" stroke-width="0.8" />
<rect x="110.0" y="496.5" width="18.8" height="22.7" fill="#c8c8c8" stroke="#444" stroke-width="0.7" />
<line x1="146.0" y1="457.0" x2="146.0" y2="471.3" stroke="#333" stroke-width="0.8" />
<line x1="143.0" y1="457.0" x2="149.0" y2="457.0" stroke="#333" stroke-width="0.8" />
<rect x="136.5" y="471.3" width="19.0" height="47.9" fill="#c8c8c8" stroke="#444" stroke-width="0.7" />
<text x="62.2" y="528.2" font-size="7.6" font-weight="normal" text-anchor="middle" fill="#000" >pMXs.</text>
<text x="62.2" y="535.7" font-size="7.6" font-weight="normal" text-anchor="middle" fill="#000" >IG/IR</text>
<text x="91.8" y="528.2" font-size="7.6" font-weight="normal" text-anchor="middle" fill="#000" >pMXs.IG</text>
<text x="91.8" y="535.7" font-size="7.6" font-weight="normal" text-anchor="middle" fill="#000" >/BMI1</text>
<text x="121.3" y="528.2" font-size="7.6" font-weight="normal" text-anchor="middle" fill="#000" >D171N/</text>
<text x="121.3" y="535.7" font-size="7.6" font-weight="normal" text-anchor="middle" fill="#000" >pMXs.IR</text>
<text x="149.5" y="528.2" font-size="7.6" font-weight="normal" text-anchor="middle" fill="#000" >D171N/</text>
<text x="149.5" y="535.7" font-size="7.6" font-weight="normal" text-anchor="middle" fill="#000" >BMI1</text>
<rect x="50.0" y="552.7" width="107.7" height="104.3" fill="none" stroke="#999" stroke-width="0.8" />
<line x1="50.0" y1="553.4" x2="157.7" y2="553.4" stroke="#bbb" stroke-width="0.8" />
<line x1="50.0" y1="605.2" x2="157.7" y2="605.2" stroke="#999" stroke-width="0.8" />
<line x1="50.0" y1="552.7" x2="50.0" y2="657.0" stroke="#777" stroke-width="0.9" />
<line x1="50.0" y1="657.0" x2="157.7" y2="657.0" stroke="#777" stroke-width="0.9" />
<line x1="47.0" y1="553.4" x2="50.0" y2="553.4" stroke="#777" stroke-width="0.8" />
<text x="45.0" y="555.9" font-size="6.8" font-weight="normal" text-anchor="end" fill="#222" >100</text>
<line x1="47.0" y1="605.2" x2="50.0" y2="605.2" stroke="#777" stroke-width="0.8" />
<text x="45.0" y="607.7" font-size="6.8" font-weight="normal" text-anchor="end" fill="#222" >10</text>
<line x1="47.0" y1="657.0" x2="50.0" y2="657.0" stroke="#777" stroke-width="0.8" />
<text x="45.0" y="659.5" font-size="6.8" font-weight="normal" text-anchor="end" fill="#222" >1</text>
<line x1="50.0" y1="657.0" x2="50.0" y2="659.0" stroke="#777" stroke-width="0.8" />
<text x="49.2" y="669.6" font-size="7.8" font-weight="normal" text-anchor="middle" fill="#333" textLength="4.3" lengthAdjust="spacingAndGlyphs" class="ns">0</text>
<line x1="103.1" y1="657.0" x2="103.1" y2="659.0" stroke="#777" stroke-width="0.8" />
<text x="103.1" y="669.6" font-size="7.8" font-weight="normal" text-anchor="middle" fill="#333" textLength="13.0" lengthAdjust="spacingAndGlyphs" class="ns">500</text>
<line x1="156.2" y1="657.0" x2="156.2" y2="659.0" stroke="#777" stroke-width="0.8" />
<text x="156.2" y="669.6" font-size="7.8" font-weight="normal" text-anchor="middle" fill="#333" textLength="17.3" lengthAdjust="spacingAndGlyphs" class="ns">1000</text>
<text x="102.1" y="680.6" font-size="8.8" font-weight="bold" text-anchor="middle" fill="#000" textLength="76.8" lengthAdjust="spacingAndGlyphs" >Cells plated&#160;&#160;per well</text>
<text transform="translate(25.9,606.0) rotate(-90)" x="0" y="0" font-size="8.8" font-weight="bold" text-anchor="middle" fill="#000" textLength="64.2" lengthAdjust="spacingAndGlyphs" >% negative wells</text>
<line x1="50.0" y1="553.4" x2="135.0" y2="554.3" stroke="#aaa" stroke-width="0.8" stroke-dasharray="1.5,1"/>
<line x1="50.0" y1="553.4" x2="135.0" y2="563.8" stroke="#222" stroke-width="1.0" />
<line x1="50.0" y1="553.4" x2="135.0" y2="609.1" stroke="#555" stroke-width="0.8" />
<polygon points="50.0,550.8 52.6,553.4 50.0,556.0 47.4,553.4" fill="#fff" stroke="#222" stroke-width="1.0" />
<polygon points="60.6,550.8 63.2,553.4 60.6,556.0 58.0,553.4" fill="#fff" stroke="#222" stroke-width="1.0" />
<polygon points="71.2,550.8 73.8,553.4 71.2,556.0 68.6,553.4" fill="#fff" stroke="#222" stroke-width="1.0" />
<polygon points="92.5,551.3 95.1,553.9 92.5,556.5 89.9,553.9" fill="#fff" stroke="#222" stroke-width="1.0" />
<polygon points="135.0,551.7 137.6,554.3 135.0,556.9 132.4,554.3" fill="#fff" stroke="#222" stroke-width="1.0" />
<polygon points="50.0,550.8 52.6,553.4 50.0,556.0 47.4,553.4" fill="#666" stroke="#222" stroke-width="0.8" />
<polygon points="60.6,551.7 63.2,554.3 60.6,556.9 58.0,554.3" fill="#666" stroke="#222" stroke-width="0.8" />
<polygon points="71.2,552.4 73.8,555.0 71.2,557.6 68.6,555.0" fill="#666" stroke="#222" stroke-width="0.8" />
<polygon points="92.5,553.2 95.1,555.8 92.5,558.4 89.9,555.8" fill="#666" stroke="#222" stroke-width="0.8" />
<polygon points="135.0,561.2 137.6,563.8 135.0,566.4 132.4,563.8" fill="#666" stroke="#222" stroke-width="0.8" />
<polygon points="50.0,550.8 52.7,555.6 47.3,555.6" fill="#aaa" stroke="#333" stroke-width="0.8" />
<polygon points="60.6,562.3 63.4,567.1 57.9,567.1" fill="#aaa" stroke="#333" stroke-width="0.8" />
<polygon points="71.2,566.4 74.0,571.2 68.5,571.2" fill="#aaa" stroke="#333" stroke-width="0.8" />
<polygon points="92.5,582.0 95.2,586.8 89.8,586.8" fill="#aaa" stroke="#333" stroke-width="0.8" />
<polygon points="135.0,606.5 137.7,611.3 132.2,611.3" fill="#aaa" stroke="#333" stroke-width="0.8" />
<polygon points="50.0,550.8 52.7,555.6 47.3,555.6" fill="#777" stroke="#222" stroke-width="0.8" />
<polygon points="60.6,552.0 63.4,556.8 57.9,556.8" fill="#777" stroke="#222" stroke-width="0.8" />
<polygon points="71.2,552.7 74.0,557.5 68.5,557.5" fill="#777" stroke="#222" stroke-width="0.8" />
<polygon points="92.5,553.7 95.2,558.5 89.8,558.5" fill="#777" stroke="#222" stroke-width="0.8" />
<polygon points="135.0,561.6 137.7,566.4 132.2,566.4" fill="#777" stroke="#222" stroke-width="0.8" />
<polygon points="61.6,615.0 63.4,616.8 61.6,618.6 59.8,616.8" fill="#fff" stroke="#333" stroke-width="0.8" />
<text x="66.0" y="619.4" font-size="7.4" font-weight="normal" text-anchor="start" fill="#333" textLength="34.9" lengthAdjust="spacingAndGlyphs" class="ns">pMXs.IG/IR</text>
<polygon points="61.6,625.4 63.4,627.2 61.6,629.0 59.8,627.2" fill="#333" stroke="#333" stroke-width="0.6" />
<text x="66.0" y="629.8" font-size="7.4" font-weight="normal" text-anchor="start" fill="#333" textLength="44.9" lengthAdjust="spacingAndGlyphs" class="ns">pMXs.IG/BMI1</text>
<polygon points="61.6,635.5 63.6,638.9 59.6,638.9" fill="#fff" stroke="#333" stroke-width="0.7" />
<text x="66.0" y="639.9" font-size="7.4" font-weight="normal" text-anchor="start" fill="#333" textLength="48.7" lengthAdjust="spacingAndGlyphs" class="ns">D171N/pMXs.IR</text>
<polygon points="61.6,645.8 63.6,649.2 59.6,649.2" fill="#333" stroke="#333" stroke-width="0.6" />
<text x="66.0" y="650.2" font-size="7.4" font-weight="normal" text-anchor="start" fill="#333" textLength="39.7" lengthAdjust="spacingAndGlyphs" class="ns">D171N/BMI1</text>
<text x="4.8" y="695.4" font-size="13.2" font-weight="bold" text-anchor="start" fill="#000" >G</text>
<line x1="36.3" y1="695.0" x2="36.3" y2="828.2" stroke="#777" stroke-width="1.0" />
<line x1="36.3" y1="828.2" x2="173.6" y2="828.2" stroke="#777" stroke-width="1.0" />
<line x1="33.8" y1="828.2" x2="36.3" y2="828.2" stroke="#777" stroke-width="0.8" />
<text x="22.3" y="830.8" font-size="7.2" font-weight="bold" fill="#000">10<tspan font-size="4.6" dy="-3">0</tspan></text>
<line x1="33.8" y1="801.6" x2="36.3" y2="801.6" stroke="#777" stroke-width="0.8" />
<text x="22.3" y="804.2" font-size="7.2" font-weight="bold" fill="#000">10<tspan font-size="4.6" dy="-3">1</tspan></text>
<line x1="33.8" y1="775.0" x2="36.3" y2="775.0" stroke="#777" stroke-width="0.8" />
<text x="22.3" y="777.6" font-size="7.2" font-weight="bold" fill="#000">10<tspan font-size="4.6" dy="-3">2</tspan></text>
<line x1="33.8" y1="748.4" x2="36.3" y2="748.4" stroke="#777" stroke-width="0.8" />
<text x="22.3" y="751.0" font-size="7.2" font-weight="bold" fill="#000">10<tspan font-size="4.6" dy="-3">3</tspan></text>
<line x1="33.8" y1="721.8" x2="36.3" y2="721.8" stroke="#777" stroke-width="0.8" />
<text x="22.3" y="724.4" font-size="7.2" font-weight="bold" fill="#000">10<tspan font-size="4.6" dy="-3">4</tspan></text>
<line x1="33.8" y1="695.2" x2="36.3" y2="695.2" stroke="#777" stroke-width="0.8" />
<text x="22.3" y="697.8" font-size="7.2" font-weight="bold" fill="#000">10<tspan font-size="4.6" dy="-3">5</tspan></text>
<line x1="36.3" y1="828.2" x2="36.3" y2="830.7" stroke="#777" stroke-width="0.8" />
<text x="36.3" y="840.6" font-size="8.2" font-weight="normal" text-anchor="middle" fill="#000" >0</text>
<line x1="63.7" y1="828.2" x2="63.7" y2="830.7" stroke="#777" stroke-width="0.8" />
<text x="63.7" y="840.6" font-size="8.2" font-weight="normal" text-anchor="middle" fill="#000" >20</text>
<line x1="91.1" y1="828.2" x2="91.1" y2="830.7" stroke="#777" stroke-width="0.8" />
<text x="91.1" y="840.6" font-size="8.2" font-weight="normal" text-anchor="middle" fill="#000" >40</text>
<line x1="118.5" y1="828.2" x2="118.5" y2="830.7" stroke="#777" stroke-width="0.8" />
<text x="118.5" y="840.6" font-size="8.2" font-weight="normal" text-anchor="middle" fill="#000" >60</text>
<line x1="145.9" y1="828.2" x2="145.9" y2="830.7" stroke="#777" stroke-width="0.8" />
<text x="145.9" y="840.6" font-size="8.2" font-weight="normal" text-anchor="middle" fill="#000" >80</text>
<line x1="173.3" y1="828.2" x2="173.3" y2="830.7" stroke="#777" stroke-width="0.8" />
<text x="173.3" y="840.6" font-size="8.2" font-weight="normal" text-anchor="middle" fill="#000" >100</text>
<text x="115.6" y="845.6" font-size="8.4" font-weight="bold" text-anchor="middle" fill="#000" textLength="55.8" lengthAdjust="spacingAndGlyphs" >Days in culture</text>
<text transform="translate(16.5,758.0) rotate(-90)" x="0" y="0" font-size="8.2" font-weight="bold" text-anchor="middle" fill="#000" textLength="62.0" lengthAdjust="spacingAndGlyphs" >Proliferation fold</text>
<g>
<polyline points="41.8,829.2 55.5,810.5 74.7,801.3 93.8,793.9 113.0,780.0 132.2,786.3" fill="none" stroke="#888" stroke-width="0.9" stroke-linejoin="round" stroke-dasharray="2,1.3"/>
<line x1="113.0" y1="771.0" x2="113.0" y2="780.0" stroke="#888" stroke-width="0.8" />
<line x1="110.5" y1="771.0" x2="115.5" y2="771.0" stroke="#888" stroke-width="0.8" />
<line x1="132.2" y1="775.2" x2="132.2" y2="786.3" stroke="#888" stroke-width="0.8" />
<line x1="129.7" y1="775.2" x2="134.7" y2="775.2" stroke="#888" stroke-width="0.8" />
<polyline points="41.8,829.2 55.5,803.6 74.7,784.0 93.8,775.4 113.0,761.0 132.2,739.6 151.4,727.9 170.6,731.0" fill="none" stroke="#7a7a7a" stroke-width="1.3" stroke-linejoin="round" />
<line x1="55.5" y1="796.2" x2="55.5" y2="803.6" stroke="#7a7a7a" stroke-width="0.8" />
<line x1="53.0" y1="796.2" x2="58.0" y2="796.2" stroke="#7a7a7a" stroke-width="0.8" />
<line x1="74.7" y1="778.5" x2="74.7" y2="784.0" stroke="#7a7a7a" stroke-width="0.8" />
<line x1="72.2" y1="778.5" x2="77.2" y2="778.5" stroke="#7a7a7a" stroke-width="0.8" />
<line x1="151.4" y1="718.8" x2="151.4" y2="727.9" stroke="#7a7a7a" stroke-width="0.8" />
<line x1="148.9" y1="718.8" x2="153.9" y2="718.8" stroke="#7a7a7a" stroke-width="0.8" />
<line x1="170.6" y1="722.3" x2="170.6" y2="731.0" stroke="#7a7a7a" stroke-width="0.8" />
<line x1="168.1" y1="722.3" x2="173.1" y2="722.3" stroke="#7a7a7a" stroke-width="0.8" />
<polyline points="41.8,829.2 55.5,817.0 74.7,758.0 93.8,739.0 113.0,732.0 132.2,729.4" fill="none" stroke="#111" stroke-width="1.4" stroke-linejoin="round" />
<line x1="74.7" y1="746.6" x2="74.7" y2="758.0" stroke="#111" stroke-width="0.8" />
<line x1="72.2" y1="746.6" x2="77.2" y2="746.6" stroke="#111" stroke-width="0.8" />
<line x1="93.8" y1="730.8" x2="93.8" y2="739.0" stroke="#111" stroke-width="0.8" />
<line x1="91.3" y1="730.8" x2="96.3" y2="730.8" stroke="#111" stroke-width="0.8" />
<line x1="113.0" y1="724.2" x2="113.0" y2="732.0" stroke="#111" stroke-width="0.8" />
<line x1="110.5" y1="724.2" x2="115.5" y2="724.2" stroke="#111" stroke-width="0.8" />
<line x1="132.2" y1="722.7" x2="132.2" y2="729.4" stroke="#111" stroke-width="0.8" />
<line x1="129.7" y1="722.7" x2="134.7" y2="722.7" stroke="#111" stroke-width="0.8" />
<polyline points="41.8,829.2 55.5,818.6 74.7,797.8 93.8,785.3 113.0,785.3" fill="none" stroke="#111" stroke-width="1.4" stroke-linejoin="round" />
<line x1="74.7" y1="793.5" x2="74.7" y2="797.8" stroke="#111" stroke-width="0.8" />
<line x1="72.2" y1="793.5" x2="77.2" y2="793.5" stroke="#111" stroke-width="0.8" />
<line x1="113.0" y1="779.0" x2="113.0" y2="785.3" stroke="#111" stroke-width="0.8" />
<line x1="110.5" y1="779.0" x2="115.5" y2="779.0" stroke="#111" stroke-width="0.8" />
<polygon points="41.8,826.0 45.0,829.2 41.8,832.4 38.6,829.2" fill="#fff" stroke="#000" stroke-width="1.2" />
<polygon points="55.5,807.3 58.7,810.5 55.5,813.7 52.3,810.5" fill="#fff" stroke="#000" stroke-width="1.2" />
<polygon points="74.7,798.1 77.9,801.3 74.7,804.5 71.5,801.3" fill="#fff" stroke="#000" stroke-width="1.2" />
<polygon points="93.8,790.7 97.0,793.9 93.8,797.1 90.6,793.9" fill="#fff" stroke="#000" stroke-width="1.2" />
<polygon points="113.0,776.8 116.2,780.0 113.0,783.2 109.8,780.0" fill="#fff" stroke="#000" stroke-width="1.2" />
<polygon points="132.2,783.1 135.4,786.3 132.2,789.5 129.0,786.3" fill="#fff" stroke="#000" stroke-width="1.2" />
<polygon points="41.8,826.0 45.0,829.2 41.8,832.4 38.6,829.2" fill="#fff" stroke="#000" stroke-width="1.2" />
<polygon points="55.5,800.4 58.7,803.6 55.5,806.8 52.3,803.6" fill="#fff" stroke="#000" stroke-width="1.2" />
<polygon points="74.7,780.8 77.9,784.0 74.7,787.2 71.5,784.0" fill="#fff" stroke="#000" stroke-width="1.2" />
<polygon points="93.8,772.2 97.0,775.4 93.8,778.6 90.6,775.4" fill="#fff" stroke="#000" stroke-width="1.2" />
<polygon points="113.0,757.8 116.2,761.0 113.0,764.2 109.8,761.0" fill="#fff" stroke="#000" stroke-width="1.2" />
<polygon points="132.2,736.4 135.4,739.6 132.2,742.8 129.0,739.6" fill="#fff" stroke="#000" stroke-width="1.2" />
<polygon points="151.4,724.7 154.6,727.9 151.4,731.1 148.2,727.9" fill="#fff" stroke="#000" stroke-width="1.2" />
<polygon points="170.6,727.8 173.8,731.0 170.6,734.2 167.4,731.0" fill="#fff" stroke="#000" stroke-width="1.2" />
<polygon points="41.8,826.0 45.3,831.9 38.3,831.9" fill="#fff" stroke="#000" stroke-width="1.2" />
<polygon points="55.5,813.8 59.0,819.7 52.0,819.7" fill="#fff" stroke="#000" stroke-width="1.2" />
<polygon points="74.7,754.8 78.2,760.7 71.1,760.7" fill="#fff" stroke="#000" stroke-width="1.2" />
<polygon points="93.8,735.8 97.4,741.7 90.3,741.7" fill="#fff" stroke="#000" stroke-width="1.2" />
<polygon points="113.0,728.8 116.5,734.7 109.5,734.7" fill="#fff" stroke="#000" stroke-width="1.2" />
<polygon points="132.2,726.2 135.7,732.1 128.7,732.1" fill="#fff" stroke="#000" stroke-width="1.2" />
<polygon points="41.8,826.0 45.3,831.9 38.3,831.9" fill="#fff" stroke="#000" stroke-width="1.2" />
<polygon points="55.5,815.4 59.0,821.3 52.0,821.3" fill="#fff" stroke="#000" stroke-width="1.2" />
<polygon points="74.7,794.6 78.2,800.5 71.1,800.5" fill="#fff" stroke="#000" stroke-width="1.2" />
<polygon points="93.8,782.1 97.4,788.0 90.3,788.0" fill="#fff" stroke="#000" stroke-width="1.2" />
<polygon points="113.0,782.1 116.5,788.0 109.5,788.0" fill="#fff" stroke="#000" stroke-width="1.2" />
<line x1="92.5" y1="792.0" x2="124.6" y2="792.0" stroke="#888" stroke-width="0.9" stroke-dasharray="2,1.3"/>
<polygon points="109.0,790.0 111.0,792.0 109.0,794.0 107.0,792.0" fill="#fff" stroke="#000" stroke-width="1.0" />
<text x="128.4" y="794.8" font-size="7.6" font-weight="normal" text-anchor="start" fill="#111" textLength="44.6" lengthAdjust="spacingAndGlyphs" >pMXs.IG/IR</text>
<line x1="92.5" y1="802.0" x2="124.6" y2="802.0" stroke="#7a7a7a" stroke-width="1.3" />
<polygon points="109.0,800.0 111.0,802.0 109.0,804.0 107.0,802.0" fill="#fff" stroke="#000" stroke-width="1.0" />
<text x="128.4" y="804.8" font-size="7.6" font-weight="normal" text-anchor="start" fill="#111" textLength="55.6" lengthAdjust="spacingAndGlyphs" >pMXs.IG/BMI1</text>
<line x1="92.5" y1="811.7" x2="124.6" y2="811.7" stroke="#111" stroke-width="1.4" />
<polygon points="109.0,809.7 111.2,813.4 106.8,813.4" fill="#fff" stroke="#000" stroke-width="1.0" />
<text x="128.4" y="814.5" font-size="7.6" font-weight="normal" text-anchor="start" fill="#111" textLength="61.4" lengthAdjust="spacingAndGlyphs" >D171N/pMXs.IR</text>
<line x1="92.5" y1="821.6" x2="124.6" y2="821.6" stroke="#111" stroke-width="1.4" />
<polygon points="109.0,819.6 111.2,823.3 106.8,823.3" fill="#fff" stroke="#000" stroke-width="1.0" />
<text x="128.4" y="824.4" font-size="7.6" font-weight="normal" text-anchor="start" fill="#111" textLength="49.3" lengthAdjust="spacingAndGlyphs" >D171N/BMI1</text>
</g>
<text x="202.2" y="526.5" font-size="15.3" font-weight="bold" text-anchor="start" fill="#000" >H</text>
<text x="274.5" y="533.6" font-size="10" font-weight="normal" text-anchor="middle" fill="#000" textLength="29.5" lengthAdjust="spacingAndGlyphs" class="hv">D171N</text>
<line x1="259.7" y1="535.7" x2="289.2" y2="535.7" stroke="#000" stroke-width="0.8" />
<text x="335.4" y="533.6" font-size="10" font-weight="normal" text-anchor="middle" fill="#000" textLength="56.0" lengthAdjust="spacingAndGlyphs" class="hv">D171N/BMI1</text>
<line x1="307.4" y1="535.7" x2="363.4" y2="535.7" stroke="#000" stroke-width="0.8" />
<text x="206.6" y="552.5" font-size="10" font-weight="normal" text-anchor="start" fill="#000" textLength="27.7" lengthAdjust="spacingAndGlyphs" >G0/G1</text>
<text x="298.2" y="552.5" font-size="10" text-anchor="end" textLength="52.2" lengthAdjust="spacing">77.51&#177;6.19</text>
<text x="362.6" y="552.5" font-size="10" text-anchor="end" textLength="53.5" lengthAdjust="spacing">60.96&#177;5.59</text>
<text x="206.6" y="564.5" font-size="10" font-weight="normal" text-anchor="start" fill="#000" >S</text>
<text x="298.2" y="564.5" font-size="10" text-anchor="end" textLength="52.2" lengthAdjust="spacing">14.21&#177;6.34</text>
<text x="362.6" y="564.5" font-size="10" text-anchor="end" textLength="53.5" lengthAdjust="spacing">31.05&#177;6.64</text>
<text x="206.6" y="576.7" font-size="10" font-weight="normal" text-anchor="start" fill="#000" >G2/M</text>
<text x="298.2" y="576.7" font-size="10" text-anchor="end" textLength="47.2" lengthAdjust="spacing">6.42&#177;1.57</text>
<text x="362.6" y="576.7" font-size="10" text-anchor="end" textLength="48.1" lengthAdjust="spacing">4.46&#177;1.25</text>
<text x="206.2" y="607.1" font-size="10" font-weight="normal" text-anchor="start" fill="#000" textLength="30.0" lengthAdjust="spacingAndGlyphs" >CD11b</text>
<line x1="250.2" y1="592.6" x2="250.2" y2="610.6" stroke="#777" stroke-width="0.6" />
<line x1="250.2" y1="610.6" x2="294.6" y2="610.6" stroke="#777" stroke-width="0.6" />
<line x1="250.2" y1="610.6" x2="250.2" y2="611.8" stroke="#999" stroke-width="0.4" />
<line x1="261.3" y1="610.6" x2="261.3" y2="611.8" stroke="#999" stroke-width="0.4" />
<line x1="272.4" y1="610.6" x2="272.4" y2="611.8" stroke="#999" stroke-width="0.4" />
<line x1="283.5" y1="610.6" x2="283.5" y2="611.8" stroke="#999" stroke-width="0.4" />
<line x1="294.6" y1="610.6" x2="294.6" y2="611.8" stroke="#999" stroke-width="0.4" />
<polygon points="250.5,610.6 250.5,610.6 250.9,610.6 251.3,610.6 251.7,610.5 252.1,610.5 252.5,610.5 252.9,610.4 253.3,610.4 253.7,610.3 254.1,610.2 254.5,610.1 254.9,609.9 255.3,609.8 255.7,609.5 256.1,609.3 256.5,609.0 256.9,608.8 257.3,608.4 257.7,608.1 258.1,607.8 258.5,607.4 258.9,607.1 259.3,606.7 259.7,606.4 260.1,606.1 260.5,605.8 260.9,605.5 261.3,605.2 261.7,604.9 262.1,604.6 262.5,604.4 262.9,604.1 263.3,603.9 263.7,603.6 264.1,603.4 264.5,603.3 264.9,603.1 265.3,603.1 265.7,603.0 266.1,603.0 266.5,603.1 266.9,603.2 267.3,603.3 267.7,603.5 268.1,603.7 268.5,603.9 268.9,604.1 269.3,604.3 269.7,604.5 270.1,604.7 270.5,604.9 270.9,605.1 271.3,605.4 271.7,605.6 272.1,605.9 272.5,606.2 272.9,606.6 273.3,607.0 273.7,607.4 274.1,607.8 274.5,608.2 274.9,608.6 275.3,609.0 275.7,609.3 276.1,609.6 276.5,609.8 276.9,610.0 277.3,610.2 277.7,610.3 278.1,610.4 278.5,610.5 278.9,610.5 279.3,610.5 279.7,610.6 280.1,610.6 280.5,610.6 280.9,610.6 281.3,610.6 281.7,610.6 282.1,610.6 282.5,610.6 282.9,610.6 283.3,610.6 283.7,610.6 284.1,610.6 284.5,610.6 284.9,610.6 285.3,610.6 285.7,610.6 286.1,610.6 286.5,610.6 286.9,610.6 287.3,610.6 287.7,610.6 288.1,610.6 288.5,610.6 288.9,610.6 289.3,610.6 289.7,610.6 290.1,610.6 290.2,610.6" fill="#2a2a2a" stroke="none" stroke-width="1" />
<polyline points="250.5,607.3 250.9,606.7 251.3,606.1 251.7,605.4 252.1,604.5 252.5,603.7 252.9,602.8 253.3,601.8 253.7,601.0 254.1,600.3 254.5,599.7 254.9,599.4 255.3,599.5 255.7,599.8 256.1,600.4 256.5,601.2 256.9,602.3 257.3,603.4 257.7,604.6 258.1,605.7 258.5,606.8 258.9,607.7 259.3,608.5 259.7,609.1 260.1,609.5 260.5,609.9 260.9,610.1 261.3,610.3 261.7,610.4 262.1,610.5 262.5,610.5 262.9,610.6 263.3,610.6 263.7,610.6 264.1,610.6 264.5,610.6 264.9,610.6 265.3,610.6 265.7,610.6 266.1,610.6 266.5,610.6 266.9,610.6 267.3,610.6 267.7,610.6 268.1,610.6 268.5,610.6 268.9,610.6 269.3,610.6 269.7,610.6 270.1,610.6 270.5,610.6 270.9,610.6 271.3,610.6 271.7,610.6 272.1,610.6 272.5,610.6 272.9,610.6 273.3,610.6 273.7,610.6 274.1,610.6 274.5,610.6 274.9,610.6 275.3,610.6 275.7,610.6 276.1,610.6 276.5,610.6 276.9,610.6 277.3,610.6 277.7,610.6 278.1,610.6 278.5,610.6 278.9,610.6 279.3,610.6 279.7,610.6 280.1,610.6 280.5,610.6 280.9,610.6 281.3,610.6 281.7,610.6 282.1,610.6 282.5,610.6 282.9,610.6 283.3,610.6 283.7,610.6 284.1,610.6 284.5,610.6 284.9,610.6 285.3,610.6 285.7,610.6 286.1,610.6 286.5,610.6 286.9,610.6 287.3,610.6 287.7,610.6 288.1,610.6 288.5,610.6 288.9,610.6 289.3,610.6 289.7,610.6 290.1,610.6" fill="none" stroke="#555" stroke-width="0.7" stroke-linejoin="round" />
<text x="248.7" y="594.6" font-size="2.5" font-weight="normal" text-anchor="end" fill="#888" >b</text>
<line x1="310.8" y1="592.6" x2="310.8" y2="610.6" stroke="#777" stroke-width="0.6" />
<line x1="310.8" y1="610.6" x2="355.2" y2="610.6" stroke="#777" stroke-width="0.6" />
<line x1="310.8" y1="610.6" x2="310.8" y2="611.8" stroke="#999" stroke-width="0.4" />
<line x1="321.9" y1="610.6" x2="321.9" y2="611.8" stroke="#999" stroke-width="0.4" />
<line x1="333.0" y1="610.6" x2="333.0" y2="611.8" stroke="#999" stroke-width="0.4" />
<line x1="344.1" y1="610.6" x2="344.1" y2="611.8" stroke="#999" stroke-width="0.4" />
<line x1="355.2" y1="610.6" x2="355.2" y2="611.8" stroke="#999" stroke-width="0.4" />
<polygon points="311.1,610.6 311.1,610.6 311.5,610.6 311.9,610.6 312.3,610.6 312.7,610.6 313.1,610.6 313.5,610.6 313.9,610.6 314.3,610.6 314.7,610.6 315.1,610.6 315.5,610.6 315.9,610.6 316.3,610.5 316.7,610.5 317.1,610.5 317.5,610.4 317.9,610.4 318.3,610.3 318.7,610.2 319.1,610.1 319.5,609.9 319.9,609.7 320.3,609.5 320.7,609.3 321.1,609.0 321.5,608.7 321.9,608.3 322.3,607.9 322.7,607.5 323.1,607.1 323.5,606.7 323.9,606.3 324.3,605.9 324.7,605.4 325.1,605.0 325.5,604.6 325.9,604.2 326.3,603.8 326.7,603.4 327.1,603.1 327.5,602.7 327.9,602.4 328.3,602.1 328.7,601.8 329.1,601.6 329.5,601.4 329.9,601.3 330.3,601.3 330.7,601.3 331.1,601.4 331.5,601.5 331.9,601.7 332.3,601.9 332.7,602.1 333.1,602.4 333.5,602.7 333.9,603.0 334.3,603.4 334.7,603.7 335.1,604.1 335.5,604.6 335.9,605.0 336.3,605.5 336.7,606.0 337.1,606.5 337.5,607.1 337.9,607.6 338.3,608.1 338.7,608.5 339.1,608.9 339.5,609.3 339.9,609.6 340.3,609.8 340.7,610.0 341.1,610.2 341.5,610.3 341.9,610.4 342.3,610.5 342.7,610.5 343.1,610.5 343.5,610.6 343.9,610.6 344.3,610.6 344.7,610.6 345.1,610.6 345.5,610.6 345.9,610.6 346.3,610.6 346.7,610.6 347.1,610.6 347.5,610.6 347.9,610.6 348.3,610.6 348.7,610.6 349.1,610.6 349.5,610.6 349.9,610.6 350.3,610.6 350.7,610.6 350.8,610.6" fill="#2a2a2a" stroke="none" stroke-width="1" />
<polyline points="311.1,609.2 311.5,608.9 311.9,608.7 312.3,608.4 312.7,608.1 313.1,607.8 313.5,607.6 313.9,607.3 314.3,607.0 314.7,606.7 315.1,606.3 315.5,606.0 315.9,605.5 316.3,605.0 316.7,604.4 317.1,603.7 317.5,603.0 317.9,602.2 318.3,601.4 318.7,600.6 319.1,599.8 319.5,599.2 319.9,598.7 320.3,598.4 320.7,598.4 321.1,598.5 321.5,598.9 321.9,599.6 322.3,600.4 322.7,601.3 323.1,602.3 323.5,603.4 323.9,604.5 324.3,605.5 324.7,606.4 325.1,607.3 325.5,608.0 325.9,608.6 326.3,609.1 326.7,609.5 327.1,609.8 327.5,610.1 327.9,610.2 328.3,610.4 328.7,610.4 329.1,610.5 329.5,610.5 329.9,610.6 330.3,610.6 330.7,610.6 331.1,610.6 331.5,610.6 331.9,610.6 332.3,610.6 332.7,610.6 333.1,610.6 333.5,610.6 333.9,610.6 334.3,610.6 334.7,610.6 335.1,610.6 335.5,610.6 335.9,610.6 336.3,610.6 336.7,610.6 337.1,610.6 337.5,610.6 337.9,610.6 338.3,610.6 338.7,610.6 339.1,610.6 339.5,610.6 339.9,610.6 340.3,610.6 340.7,610.6 341.1,610.6 341.5,610.6 341.9,610.6 342.3,610.6 342.7,610.6 343.1,610.6 343.5,610.6 343.9,610.6 344.3,610.6 344.7,610.6 345.1,610.6 345.5,610.6 345.9,610.6 346.3,610.6 346.7,610.6 347.1,610.6 347.5,610.6 347.9,610.6 348.3,610.6 348.7,610.6 349.1,610.6 349.5,610.6 349.9,610.6 350.3,610.6 350.7,610.6" fill="none" stroke="#555" stroke-width="0.7" stroke-linejoin="round" />
<text x="309.3" y="594.6" font-size="2.5" font-weight="normal" text-anchor="end" fill="#888" >b</text>
<text x="206.2" y="637.0" font-size="10" font-weight="normal" text-anchor="start" fill="#000" textLength="24.6" lengthAdjust="spacingAndGlyphs" >CD13</text>
<line x1="250.2" y1="622.7" x2="250.2" y2="640.7" stroke="#777" stroke-width="0.6" />
<line x1="250.2" y1="640.7" x2="294.6" y2="640.7" stroke="#777" stroke-width="0.6" />
<line x1="250.2" y1="640.7" x2="250.2" y2="641.9" stroke="#999" stroke-width="0.4" />
<line x1="261.3" y1="640.7" x2="261.3" y2="641.9" stroke="#999" stroke-width="0.4" />
<line x1="272.4" y1="640.7" x2="272.4" y2="641.9" stroke="#999" stroke-width="0.4" />
<line x1="283.5" y1="640.7" x2="283.5" y2="641.9" stroke="#999" stroke-width="0.4" />
<line x1="294.6" y1="640.7" x2="294.6" y2="641.9" stroke="#999" stroke-width="0.4" />
<polygon points="250.5,640.7 250.5,640.7 250.9,640.7 251.3,640.7 251.7,640.7 252.1,640.7 252.5,640.7 252.9,640.7 253.3,640.7 253.7,640.7 254.1,640.7 254.5,640.7 254.9,640.7 255.3,640.7 255.7,640.7 256.1,640.7 256.5,640.7 256.9,640.7 257.3,640.7 257.7,640.7 258.1,640.7 258.5,640.7 258.9,640.7 259.3,640.7 259.7,640.7 260.1,640.7 260.5,640.7 260.9,640.7 261.3,640.7 261.7,640.7 262.1,640.7 262.5,640.7 262.9,640.7 263.3,640.6 263.7,640.6 264.1,640.6 264.5,640.5 264.9,640.4 265.3,640.3 265.7,640.2 266.1,640.0 266.5,639.8 266.9,639.6 267.3,639.3 267.7,639.0 268.1,638.6 268.5,638.2 268.9,637.7 269.3,637.3 269.7,636.8 270.1,636.3 270.5,635.8 270.9,635.4 271.3,634.9 271.7,634.5 272.1,634.2 272.5,633.9 272.9,633.7 273.3,633.5 273.7,633.3 274.1,633.2 274.5,633.2 274.9,633.1 275.3,633.1 275.7,633.2 276.1,633.3 276.5,633.5 276.9,633.7 277.3,633.9 277.7,634.2 278.1,634.5 278.5,634.7 278.9,635.0 279.3,635.2 279.7,635.4 280.1,635.6 280.5,635.8 280.9,636.1 281.3,636.5 281.7,637.0 282.1,637.6 282.5,638.2 282.9,638.7 283.3,639.2 283.7,639.7 284.1,640.0 284.5,640.2 284.9,640.4 285.3,640.5 285.7,640.6 286.1,640.6 286.5,640.7 286.9,640.7 287.3,640.7 287.7,640.7 288.1,640.7 288.5,640.7 288.9,640.7 289.3,640.7 289.7,640.7 290.1,640.7 290.2,640.7" fill="#2a2a2a" stroke="none" stroke-width="1" />
<polyline points="250.5,638.4 250.9,637.9 251.3,637.4 251.7,636.9 252.1,636.4 252.5,635.8 252.9,635.3 253.3,634.6 253.7,634.0 254.1,633.3 254.5,632.5 254.9,631.8 255.3,631.2 255.7,630.7 256.1,630.4 256.5,630.4 256.9,630.7 257.3,631.2 257.7,632.0 258.1,633.0 258.5,634.1 258.9,635.2 259.3,636.2 259.7,637.2 260.1,638.1 260.5,638.8 260.9,639.3 261.3,639.8 261.7,640.1 262.1,640.3 262.5,640.5 262.9,640.6 263.3,640.6 263.7,640.7 264.1,640.7 264.5,640.7 264.9,640.7 265.3,640.7 265.7,640.7 266.1,640.7 266.5,640.7 266.9,640.7 267.3,640.7 267.7,640.7 268.1,640.7 268.5,640.7 268.9,640.7 269.3,640.7 269.7,640.7 270.1,640.7 270.5,640.7 270.9,640.7 271.3,640.7 271.7,640.7 272.1,640.7 272.5,640.7 272.9,640.7 273.3,640.7 273.7,640.7 274.1,640.7 274.5,640.7 274.9,640.7 275.3,640.7 275.7,640.7 276.1,640.7 276.5,640.7 276.9,640.7 277.3,640.7 277.7,640.7 278.1,640.7 278.5,640.7 278.9,640.7 279.3,640.7 279.7,640.7 280.1,640.7 280.5,640.7 280.9,640.7 281.3,640.7 281.7,640.7 282.1,640.7 282.5,640.7 282.9,640.7 283.3,640.7 283.7,640.7 284.1,640.7 284.5,640.7 284.9,640.7 285.3,640.7 285.7,640.7 286.1,640.7 286.5,640.7 286.9,640.7 287.3,640.7 287.7,640.7 288.1,640.7 288.5,640.7 288.9,640.7 289.3,640.7 289.7,640.7 290.1,640.7" fill="none" stroke="#555" stroke-width="0.7" stroke-linejoin="round" />
<text x="248.7" y="624.7" font-size="2.5" font-weight="normal" text-anchor="end" fill="#888" >b</text>
<line x1="310.8" y1="622.7" x2="310.8" y2="640.7" stroke="#777" stroke-width="0.6" />
<line x1="310.8" y1="640.7" x2="355.2" y2="640.7" stroke="#777" stroke-width="0.6" />
<line x1="310.8" y1="640.7" x2="310.8" y2="641.9" stroke="#999" stroke-width="0.4" />
<line x1="321.9" y1="640.7" x2="321.9" y2="641.9" stroke="#999" stroke-width="0.4" />
<line x1="333.0" y1="640.7" x2="333.0" y2="641.9" stroke="#999" stroke-width="0.4" />
<line x1="344.1" y1="640.7" x2="344.1" y2="641.9" stroke="#999" stroke-width="0.4" />
<line x1="355.2" y1="640.7" x2="355.2" y2="641.9" stroke="#999" stroke-width="0.4" />
<polygon points="311.1,640.7 311.1,640.7 311.5,640.7 311.9,640.7 312.3,640.7 312.7,640.7 313.1,640.7 313.5,640.7 313.9,640.7 314.3,640.7 314.7,640.7 315.1,640.7 315.5,640.7 315.9,640.7 316.3,640.7 316.7,640.7 317.1,640.7 317.5,640.7 317.9,640.7 318.3,640.7 318.7,640.7 319.1,640.7 319.5,640.7 319.9,640.7 320.3,640.7 320.7,640.7 321.1,640.7 321.5,640.7 321.9,640.7 322.3,640.7 322.7,640.7 323.1,640.7 323.5,640.7 323.9,640.7 324.3,640.7 324.7,640.7 325.1,640.7 325.5,640.6 325.9,640.6 326.3,640.6 326.7,640.5 327.1,640.5 327.5,640.4 327.9,640.3 328.3,640.1 328.7,640.0 329.1,639.8 329.5,639.6 329.9,639.4 330.3,639.1 330.7,638.8 331.1,638.5 331.5,638.1 331.9,637.7 332.3,637.2 332.7,636.6 333.1,635.9 333.5,635.1 333.9,634.1 334.3,633.1 334.7,631.9 335.1,630.7 335.5,629.5 335.9,628.4 336.3,627.5 336.7,626.8 337.1,626.6 337.5,626.7 337.9,627.2 338.3,628.1 338.7,629.3 339.1,630.7 339.5,632.2 339.9,633.7 340.3,635.1 340.7,636.4 341.1,637.5 341.5,638.4 341.9,639.1 342.3,639.6 342.7,640.0 343.1,640.2 343.5,640.4 343.9,640.5 344.3,640.6 344.7,640.6 345.1,640.7 345.5,640.7 345.9,640.7 346.3,640.7 346.7,640.7 347.1,640.7 347.5,640.7 347.9,640.7 348.3,640.7 348.7,640.7 349.1,640.7 349.5,640.7 349.9,640.7 350.3,640.7 350.7,640.7 350.8,640.7" fill="#2a2a2a" stroke="none" stroke-width="1" />
<polyline points="311.1,639.3 311.5,639.0 311.9,638.8 312.3,638.5 312.7,638.3 313.1,638.0 313.5,637.8 313.9,637.5 314.3,637.2 314.7,636.9 315.1,636.6 315.5,636.2 315.9,635.6 316.3,635.0 316.7,634.3 317.1,633.5 317.5,632.6 317.9,631.7 318.3,630.8 318.7,630.0 319.1,629.4 319.5,629.1 319.9,629.0 320.3,629.2 320.7,629.8 321.1,630.6 321.5,631.6 321.9,632.7 322.3,633.9 322.7,635.1 323.1,636.2 323.5,637.2 323.9,638.1 324.3,638.8 324.7,639.3 325.1,639.8 325.5,640.1 325.9,640.3 326.3,640.4 326.7,640.5 327.1,640.6 327.5,640.6 327.9,640.7 328.3,640.7 328.7,640.7 329.1,640.7 329.5,640.7 329.9,640.7 330.3,640.7 330.7,640.7 331.1,640.7 331.5,640.7 331.9,640.7 332.3,640.7 332.7,640.7 333.1,640.7 333.5,640.7 333.9,640.7 334.3,640.7 334.7,640.7 335.1,640.7 335.5,640.7 335.9,640.7 336.3,640.7 336.7,640.7 337.1,640.7 337.5,640.7 337.9,640.7 338.3,640.7 338.7,640.7 339.1,640.7 339.5,640.7 339.9,640.7 340.3,640.7 340.7,640.7 341.1,640.7 341.5,640.7 341.9,640.7 342.3,640.7 342.7,640.7 343.1,640.7 343.5,640.7 343.9,640.7 344.3,640.7 344.7,640.7 345.1,640.7 345.5,640.7 345.9,640.7 346.3,640.7 346.7,640.7 347.1,640.7 347.5,640.7 347.9,640.7 348.3,640.7 348.7,640.7 349.1,640.7 349.5,640.7 349.9,640.7 350.3,640.7 350.7,640.7" fill="none" stroke="#555" stroke-width="0.7" stroke-linejoin="round" />
<text x="309.3" y="624.7" font-size="2.5" font-weight="normal" text-anchor="end" fill="#888" >b</text>
<text x="206.2" y="666.9" font-size="10" font-weight="normal" text-anchor="start" fill="#000" textLength="24.6" lengthAdjust="spacingAndGlyphs" >CD33</text>
<line x1="250.2" y1="652.8" x2="250.2" y2="670.8" stroke="#777" stroke-width="0.6" />
<line x1="250.2" y1="670.8" x2="294.6" y2="670.8" stroke="#777" stroke-width="0.6" />
<line x1="250.2" y1="670.8" x2="250.2" y2="672.0" stroke="#999" stroke-width="0.4" />
<line x1="261.3" y1="670.8" x2="261.3" y2="672.0" stroke="#999" stroke-width="0.4" />
<line x1="272.4" y1="670.8" x2="272.4" y2="672.0" stroke="#999" stroke-width="0.4" />
<line x1="283.5" y1="670.8" x2="283.5" y2="672.0" stroke="#999" stroke-width="0.4" />
<line x1="294.6" y1="670.8" x2="294.6" y2="672.0" stroke="#999" stroke-width="0.4" />
<polygon points="250.5,670.8 250.5,670.8 250.9,670.8 251.3,670.8 251.7,670.8 252.1,670.8 252.5,670.8 252.9,670.8 253.3,670.8 253.7,670.8 254.1,670.8 254.5,670.8 254.9,670.8 255.3,670.8 255.7,670.8 256.1,670.8 256.5,670.8 256.9,670.8 257.3,670.8 257.7,670.8 258.1,670.8 258.5,670.8 258.9,670.8 259.3,670.8 259.7,670.8 260.1,670.8 260.5,670.8 260.9,670.8 261.3,670.8 261.7,670.8 262.1,670.8 262.5,670.8 262.9,670.7 263.3,670.7 263.7,670.6 264.1,670.5 264.5,670.4 264.9,670.2 265.3,669.9 265.7,669.6 266.1,669.2 266.5,668.7 266.9,668.1 267.3,667.4 267.7,666.6 268.1,665.7 268.5,664.7 268.9,663.7 269.3,662.7 269.7,661.7 270.1,660.8 270.5,660.1 270.9,659.5 271.3,659.3 271.7,659.4 272.1,659.8 272.5,660.5 272.9,661.4 273.3,662.6 273.7,663.8 274.1,665.0 274.5,666.2 274.9,667.2 275.3,668.1 275.7,668.9 276.1,669.4 276.5,669.9 276.9,670.2 277.3,670.4 277.7,670.6 278.1,670.7 278.5,670.7 278.9,670.8 279.3,670.8 279.7,670.8 280.1,670.8 280.5,670.8 280.9,670.8 281.3,670.8 281.7,670.8 282.1,670.8 282.5,670.8 282.9,670.8 283.3,670.8 283.7,670.8 284.1,670.8 284.5,670.8 284.9,670.8 285.3,670.8 285.7,670.8 286.1,670.8 286.5,670.8 286.9,670.8 287.3,670.8 287.7,670.8 288.1,670.8 288.5,670.8 288.9,670.8 289.3,670.8 289.7,670.8 290.1,670.8 290.2,670.8" fill="#2a2a2a" stroke="none" stroke-width="1" />
<polyline points="250.5,668.6 250.9,668.1 251.3,667.7 251.7,667.3 252.1,666.9 252.5,666.5 252.9,666.1 253.3,665.7 253.7,665.2 254.1,664.5 254.5,663.8 254.9,663.0 255.3,662.2 255.7,661.4 256.1,660.8 256.5,660.4 256.9,660.2 257.3,660.4 257.7,660.8 258.1,661.6 258.5,662.5 258.9,663.6 259.3,664.8 259.7,665.9 260.1,666.9 260.5,667.9 260.9,668.6 261.3,669.3 261.7,669.7 262.1,670.1 262.5,670.3 262.9,670.5 263.3,670.6 263.7,670.7 264.1,670.7 264.5,670.8 264.9,670.8 265.3,670.8 265.7,670.8 266.1,670.8 266.5,670.8 266.9,670.8 267.3,670.8 267.7,670.8 268.1,670.8 268.5,670.8 268.9,670.8 269.3,670.8 269.7,670.8 270.1,670.8 270.5,670.8 270.9,670.8 271.3,670.8 271.7,670.8 272.1,670.8 272.5,670.8 272.9,670.8 273.3,670.8 273.7,670.8 274.1,670.8 274.5,670.8 274.9,670.8 275.3,670.8 275.7,670.8 276.1,670.8 276.5,670.8 276.9,670.8 277.3,670.8 277.7,670.8 278.1,670.8 278.5,670.8 278.9,670.8 279.3,670.8 279.7,670.8 280.1,670.8 280.5,670.8 280.9,670.8 281.3,670.8 281.7,670.8 282.1,670.8 282.5,670.8 282.9,670.8 283.3,670.8 283.7,670.8 284.1,670.8 284.5,670.8 284.9,670.8 285.3,670.8 285.7,670.8 286.1,670.8 286.5,670.8 286.9,670.8 287.3,670.8 287.7,670.8 288.1,670.8 288.5,670.8 288.9,670.8 289.3,670.8 289.7,670.8 290.1,670.8" fill="none" stroke="#555" stroke-width="0.7" stroke-linejoin="round" />
<text x="248.7" y="654.8" font-size="2.5" font-weight="normal" text-anchor="end" fill="#888" >b</text>
<line x1="310.8" y1="652.8" x2="310.8" y2="670.8" stroke="#777" stroke-width="0.6" />
<line x1="310.8" y1="670.8" x2="355.2" y2="670.8" stroke="#777" stroke-width="0.6" />
<line x1="310.8" y1="670.8" x2="310.8" y2="672.0" stroke="#999" stroke-width="0.4" />
<line x1="321.9" y1="670.8" x2="321.9" y2="672.0" stroke="#999" stroke-width="0.4" />
<line x1="333.0" y1="670.8" x2="333.0" y2="672.0" stroke="#999" stroke-width="0.4" />
<line x1="344.1" y1="670.8" x2="344.1" y2="672.0" stroke="#999" stroke-width="0.4" />
<line x1="355.2" y1="670.8" x2="355.2" y2="672.0" stroke="#999" stroke-width="0.4" />
<polygon points="311.1,670.8 311.1,670.8 311.5,670.8 311.9,670.8 312.3,670.8 312.7,670.8 313.1,670.8 313.5,670.8 313.9,670.8 314.3,670.8 314.7,670.8 315.1,670.8 315.5,670.8 315.9,670.8 316.3,670.8 316.7,670.8 317.1,670.8 317.5,670.8 317.9,670.8 318.3,670.8 318.7,670.8 319.1,670.8 319.5,670.8 319.9,670.8 320.3,670.8 320.7,670.8 321.1,670.8 321.5,670.8 321.9,670.8 322.3,670.8 322.7,670.8 323.1,670.8 323.5,670.7 323.9,670.7 324.3,670.6 324.7,670.5 325.1,670.3 325.5,670.1 325.9,669.8 326.3,669.4 326.7,669.0 327.1,668.4 327.5,667.7 327.9,666.8 328.3,665.9 328.7,664.9 329.1,663.7 329.5,662.5 329.9,661.3 330.3,660.1 330.7,659.0 331.1,658.1 331.5,657.4 331.9,657.0 332.3,657.0 332.7,657.3 333.1,658.0 333.5,659.0 333.9,660.2 334.3,661.6 334.7,663.0 335.1,664.4 335.5,665.7 335.9,666.9 336.3,667.8 336.7,668.6 337.1,669.3 337.5,669.8 337.9,670.1 338.3,670.4 338.7,670.5 339.1,670.6 339.5,670.7 339.9,670.7 340.3,670.8 340.7,670.8 341.1,670.8 341.5,670.8 341.9,670.8 342.3,670.8 342.7,670.8 343.1,670.8 343.5,670.8 343.9,670.8 344.3,670.8 344.7,670.8 345.1,670.8 345.5,670.8 345.9,670.8 346.3,670.8 346.7,670.8 347.1,670.8 347.5,670.8 347.9,670.8 348.3,670.8 348.7,670.8 349.1,670.8 349.5,670.8 349.9,670.8 350.3,670.8 350.7,670.8 350.8,670.8" fill="#2a2a2a" stroke="none" stroke-width="1" />
<polyline points="311.1,669.9 311.5,669.7 311.9,669.5 312.3,669.3 312.7,669.0 313.1,668.8 313.5,668.5 313.9,668.3 314.3,668.0 314.7,667.8 315.1,667.5 315.5,667.3 315.9,667.0 316.3,666.6 316.7,666.2 317.1,665.7 317.5,665.1 317.9,664.3 318.3,663.4 318.7,662.5 319.1,661.5 319.5,660.6 319.9,659.7 320.3,659.1 320.7,658.7 321.1,658.6 321.5,658.8 321.9,659.3 322.3,660.2 322.7,661.2 323.1,662.4 323.5,663.7 323.9,664.9 324.3,666.1 324.7,667.1 325.1,668.0 325.5,668.8 325.9,669.4 326.3,669.8 326.7,670.1 327.1,670.4 327.5,670.5 327.9,670.6 328.3,670.7 328.7,670.7 329.1,670.8 329.5,670.8 329.9,670.8 330.3,670.8 330.7,670.8 331.1,670.8 331.5,670.8 331.9,670.8 332.3,670.8 332.7,670.8 333.1,670.8 333.5,670.8 333.9,670.8 334.3,670.8 334.7,670.8 335.1,670.8 335.5,670.8 335.9,670.8 336.3,670.8 336.7,670.8 337.1,670.8 337.5,670.8 337.9,670.8 338.3,670.8 338.7,670.8 339.1,670.8 339.5,670.8 339.9,670.8 340.3,670.8 340.7,670.8 341.1,670.8 341.5,670.8 341.9,670.8 342.3,670.8 342.7,670.8 343.1,670.8 343.5,670.8 343.9,670.8 344.3,670.8 344.7,670.8 345.1,670.8 345.5,670.8 345.9,670.8 346.3,670.8 346.7,670.8 347.1,670.8 347.5,670.8 347.9,670.8 348.3,670.8 348.7,670.8 349.1,670.8 349.5,670.8 349.9,670.8 350.3,670.8 350.7,670.8" fill="none" stroke="#555" stroke-width="0.7" stroke-linejoin="round" />
<text x="309.3" y="654.8" font-size="2.5" font-weight="normal" text-anchor="end" fill="#888" >b</text>
<text x="206.2" y="697.0" font-size="10" font-weight="normal" text-anchor="start" fill="#000" textLength="24.6" lengthAdjust="spacingAndGlyphs" >CD34</text>
<line x1="250.2" y1="682.9" x2="250.2" y2="700.9" stroke="#777" stroke-width="0.6" />
<line x1="250.2" y1="700.9" x2="294.6" y2="700.9" stroke="#777" stroke-width="0.6" />
<line x1="250.2" y1="700.9" x2="250.2" y2="702.1" stroke="#999" stroke-width="0.4" />
<line x1="261.3" y1="700.9" x2="261.3" y2="702.1" stroke="#999" stroke-width="0.4" />
<line x1="272.4" y1="700.9" x2="272.4" y2="702.1" stroke="#999" stroke-width="0.4" />
<line x1="283.5" y1="700.9" x2="283.5" y2="702.1" stroke="#999" stroke-width="0.4" />
<line x1="294.6" y1="700.9" x2="294.6" y2="702.1" stroke="#999" stroke-width="0.4" />
<polygon points="250.5,700.9 250.5,700.8 250.9,700.8 251.3,700.7 251.7,700.6 252.1,700.6 252.5,700.5 252.9,700.3 253.3,700.2 253.7,700.0 254.1,699.8 254.5,699.5 254.9,699.2 255.3,698.9 255.7,698.6 256.1,698.2 256.5,697.7 256.9,697.3 257.3,696.9 257.7,696.4 258.1,696.0 258.5,695.5 258.9,695.2 259.3,694.8 259.7,694.5 260.1,694.3 260.5,694.1 260.9,694.1 261.3,694.0 261.7,694.1 262.1,694.2 262.5,694.4 262.9,694.7 263.3,694.9 263.7,695.2 264.1,695.5 264.5,695.9 264.9,696.2 265.3,696.5 265.7,696.8 266.1,697.1 266.5,697.3 266.9,697.5 267.3,697.7 267.7,697.9 268.1,698.1 268.5,698.2 268.9,698.3 269.3,698.5 269.7,698.6 270.1,698.7 270.5,698.7 270.9,698.8 271.3,698.9 271.7,699.0 272.1,699.1 272.5,699.2 272.9,699.3 273.3,699.4 273.7,699.4 274.1,699.5 274.5,699.6 274.9,699.7 275.3,699.8 275.7,699.9 276.1,700.0 276.5,700.1 276.9,700.1 277.3,700.2 277.7,700.3 278.1,700.3 278.5,700.4 278.9,700.5 279.3,700.5 279.7,700.5 280.1,700.6 280.5,700.6 280.9,700.7 281.3,700.7 281.7,700.7 282.1,700.7 282.5,700.8 282.9,700.8 283.3,700.8 283.7,700.8 284.1,700.8 284.5,700.8 284.9,700.9 285.3,700.9 285.7,700.9 286.1,700.9 286.5,700.9 286.9,700.9 287.3,700.9 287.7,700.9 288.1,700.9 288.5,700.9 288.9,700.9 289.3,700.9 289.7,700.9 290.1,700.9 290.2,700.9" fill="#2a2a2a" stroke="none" stroke-width="1" />
<polyline points="250.5,698.3 250.9,697.7 251.3,697.1 251.7,696.5 252.1,695.9 252.5,695.4 252.9,694.8 253.3,694.3 253.7,693.7 254.1,693.2 254.5,692.7 254.9,692.2 255.3,691.8 255.7,691.5 256.1,691.4 256.5,691.4 256.9,691.6 257.3,692.0 257.7,692.6 258.1,693.4 258.5,694.2 258.9,695.1 259.3,696.0 259.7,696.8 260.1,697.6 260.5,698.3 260.9,698.9 261.3,699.4 261.7,699.8 262.1,700.2 262.5,700.4 262.9,700.6 263.3,700.7 263.7,700.8 264.1,700.8 264.5,700.8 264.9,700.9 265.3,700.9 265.7,700.9 266.1,700.9 266.5,700.9 266.9,700.9 267.3,700.9 267.7,700.9 268.1,700.9 268.5,700.9 268.9,700.9 269.3,700.9 269.7,700.9 270.1,700.9 270.5,700.9 270.9,700.9 271.3,700.9 271.7,700.9 272.1,700.9 272.5,700.9 272.9,700.9 273.3,700.9 273.7,700.9 274.1,700.9 274.5,700.9 274.9,700.9 275.3,700.9 275.7,700.9 276.1,700.9 276.5,700.9 276.9,700.9 277.3,700.9 277.7,700.9 278.1,700.9 278.5,700.9 278.9,700.9 279.3,700.9 279.7,700.9 280.1,700.9 280.5,700.9 280.9,700.9 281.3,700.9 281.7,700.9 282.1,700.9 282.5,700.9 282.9,700.9 283.3,700.9 283.7,700.9 284.1,700.9 284.5,700.9 284.9,700.9 285.3,700.9 285.7,700.9 286.1,700.9 286.5,700.9 286.9,700.9 287.3,700.9 287.7,700.9 288.1,700.9 288.5,700.9 288.9,700.9 289.3,700.9 289.7,700.9 290.1,700.9" fill="none" stroke="#555" stroke-width="0.7" stroke-linejoin="round" />
<text x="248.7" y="684.9" font-size="2.5" font-weight="normal" text-anchor="end" fill="#888" >b</text>
<line x1="310.8" y1="682.9" x2="310.8" y2="700.9" stroke="#777" stroke-width="0.6" />
<line x1="310.8" y1="700.9" x2="355.2" y2="700.9" stroke="#777" stroke-width="0.6" />
<line x1="310.8" y1="700.9" x2="310.8" y2="702.1" stroke="#999" stroke-width="0.4" />
<line x1="321.9" y1="700.9" x2="321.9" y2="702.1" stroke="#999" stroke-width="0.4" />
<line x1="333.0" y1="700.9" x2="333.0" y2="702.1" stroke="#999" stroke-width="0.4" />
<line x1="344.1" y1="700.9" x2="344.1" y2="702.1" stroke="#999" stroke-width="0.4" />
<line x1="355.2" y1="700.9" x2="355.2" y2="702.1" stroke="#999" stroke-width="0.4" />
<polygon points="311.1,700.9 311.1,700.5 311.5,700.4 311.9,700.2 312.3,699.9 312.7,699.6 313.1,699.1 313.5,698.7 313.9,698.1 314.3,697.5 314.7,696.8 315.1,696.0 315.5,695.2 315.9,694.4 316.3,693.5 316.7,692.7 317.1,691.9 317.5,691.1 317.9,690.3 318.3,689.6 318.7,688.9 319.1,688.3 319.5,687.8 319.9,687.4 320.3,687.1 320.7,687.0 321.1,687.0 321.5,687.1 321.9,687.4 322.3,687.8 322.7,688.4 323.1,689.1 323.5,689.8 323.9,690.7 324.3,691.5 324.7,692.3 325.1,693.0 325.5,693.8 325.9,694.4 326.3,695.0 326.7,695.5 327.1,695.9 327.5,696.2 327.9,696.5 328.3,696.7 328.7,696.9 329.1,697.0 329.5,697.2 329.9,697.3 330.3,697.4 330.7,697.5 331.1,697.6 331.5,697.7 331.9,697.8 332.3,697.9 332.7,698.1 333.1,698.2 333.5,698.3 333.9,698.5 334.3,698.6 334.7,698.7 335.1,698.9 335.5,699.0 335.9,699.2 336.3,699.3 336.7,699.4 337.1,699.6 337.5,699.7 337.9,699.8 338.3,699.9 338.7,700.0 339.1,700.1 339.5,700.2 339.9,700.3 340.3,700.3 340.7,700.4 341.1,700.5 341.5,700.5 341.9,700.6 342.3,700.6 342.7,700.7 343.1,700.7 343.5,700.7 343.9,700.8 344.3,700.8 344.7,700.8 345.1,700.8 345.5,700.8 345.9,700.8 346.3,700.9 346.7,700.9 347.1,700.9 347.5,700.9 347.9,700.9 348.3,700.9 348.7,700.9 349.1,700.9 349.5,700.9 349.9,700.9 350.3,700.9 350.7,700.9 350.8,700.9" fill="#2a2a2a" stroke="none" stroke-width="1" />
<polyline points="311.1,700.2 311.5,700.0 311.9,699.8 312.3,699.5 312.7,699.2 313.1,698.8 313.5,698.4 313.9,697.9 314.3,697.4 314.7,696.9 315.1,696.4 315.5,695.8 315.9,695.2 316.3,694.6 316.7,694.0 317.1,693.4 317.5,692.8 317.9,692.2 318.3,691.7 318.7,691.3 319.1,690.9 319.5,690.6 319.9,690.4 320.3,690.3 320.7,690.3 321.1,690.5 321.5,690.8 321.9,691.2 322.3,691.7 322.7,692.4 323.1,693.1 323.5,693.9 323.9,694.7 324.3,695.4 324.7,696.2 325.1,696.9 325.5,697.6 325.9,698.2 326.3,698.8 326.7,699.2 327.1,699.6 327.5,699.9 327.9,700.2 328.3,700.4 328.7,700.5 329.1,700.6 329.5,700.7 329.9,700.8 330.3,700.8 330.7,700.8 331.1,700.9 331.5,700.9 331.9,700.9 332.3,700.9 332.7,700.9 333.1,700.9 333.5,700.9 333.9,700.9 334.3,700.9 334.7,700.9 335.1,700.9 335.5,700.9 335.9,700.9 336.3,700.9 336.7,700.9 337.1,700.9 337.5,700.9 337.9,700.9 338.3,700.9 338.7,700.9 339.1,700.9 339.5,700.9 339.9,700.9 340.3,700.9 340.7,700.9 341.1,700.9 341.5,700.9 341.9,700.9 342.3,700.9 342.7,700.9 343.1,700.9 343.5,700.9 343.9,700.9 344.3,700.9 344.7,700.9 345.1,700.9 345.5,700.9 345.9,700.9 346.3,700.9 346.7,700.9 347.1,700.9 347.5,700.9 347.9,700.9 348.3,700.9 348.7,700.9 349.1,700.9 349.5,700.9 349.9,700.9 350.3,700.9 350.7,700.9" fill="none" stroke="#555" stroke-width="0.7" stroke-linejoin="round" />
<text x="309.3" y="684.9" font-size="2.5" font-weight="normal" text-anchor="end" fill="#888" >b</text>
<text x="206.2" y="726.9" font-size="10" font-weight="normal" text-anchor="start" fill="#000" textLength="29.4" lengthAdjust="spacingAndGlyphs" >CD117</text>
<line x1="250.2" y1="712.8" x2="250.2" y2="730.8" stroke="#777" stroke-width="0.6" />
<line x1="250.2" y1="730.8" x2="294.6" y2="730.8" stroke="#777" stroke-width="0.6" />
<line x1="250.2" y1="730.8" x2="250.2" y2="732.0" stroke="#999" stroke-width="0.4" />
<line x1="261.3" y1="730.8" x2="261.3" y2="732.0" stroke="#999" stroke-width="0.4" />
<line x1="272.4" y1="730.8" x2="272.4" y2="732.0" stroke="#999" stroke-width="0.4" />
<line x1="283.5" y1="730.8" x2="283.5" y2="732.0" stroke="#999" stroke-width="0.4" />
<line x1="294.6" y1="730.8" x2="294.6" y2="732.0" stroke="#999" stroke-width="0.4" />
<polygon points="250.5,730.8 250.5,730.2 250.9,730.0 251.3,729.8 251.7,729.6 252.1,729.3 252.5,729.0 252.9,728.7 253.3,728.3 253.7,727.9 254.1,727.5 254.5,727.1 254.9,726.7 255.3,726.3 255.7,725.9 256.1,725.5 256.5,725.1 256.9,724.8 257.3,724.5 257.7,724.2 258.1,724.0 258.5,723.7 258.9,723.5 259.3,723.4 259.7,723.2 260.1,723.1 260.5,723.0 260.9,722.9 261.3,722.9 261.7,722.9 262.1,723.0 262.5,723.1 262.9,723.3 263.3,723.5 263.7,723.8 264.1,724.1 264.5,724.5 264.9,724.9 265.3,725.3 265.7,725.7 266.1,726.2 266.5,726.6 266.9,727.1 267.3,727.5 267.7,727.9 268.1,728.3 268.5,728.7 268.9,729.0 269.3,729.3 269.7,729.5 270.1,729.7 270.5,729.9 270.9,730.1 271.3,730.2 271.7,730.4 272.1,730.5 272.5,730.5 272.9,730.6 273.3,730.6 273.7,730.7 274.1,730.7 274.5,730.7 274.9,730.8 275.3,730.8 275.7,730.8 276.1,730.8 276.5,730.8 276.9,730.8 277.3,730.8 277.7,730.8 278.1,730.8 278.5,730.8 278.9,730.8 279.3,730.8 279.7,730.8 280.1,730.8 280.5,730.8 280.9,730.8 281.3,730.8 281.7,730.8 282.1,730.8 282.5,730.8 282.9,730.8 283.3,730.8 283.7,730.8 284.1,730.8 284.5,730.8 284.9,730.8 285.3,730.8 285.7,730.8 286.1,730.8 286.5,730.8 286.9,730.8 287.3,730.8 287.7,730.8 288.1,730.8 288.5,730.8 288.9,730.8 289.3,730.8 289.7,730.8 290.1,730.8 290.2,730.8" fill="#2a2a2a" stroke="none" stroke-width="1" />
<polyline points="250.5,728.1 250.9,727.5 251.3,726.8 251.7,726.2 252.1,725.5 252.5,724.8 252.9,724.1 253.3,723.4 253.7,722.7 254.1,722.0 254.5,721.3 254.9,720.6 255.3,720.1 255.7,719.7 256.1,719.5 256.5,719.5 256.9,719.8 257.3,720.2 257.7,720.9 258.1,721.8 258.5,722.8 258.9,723.9 259.3,724.9 259.7,725.9 260.1,726.9 260.5,727.7 260.9,728.5 261.3,729.1 261.7,729.5 262.1,729.9 262.5,730.2 262.9,730.4 263.3,730.5 263.7,730.6 264.1,730.7 264.5,730.7 264.9,730.8 265.3,730.8 265.7,730.8 266.1,730.8 266.5,730.8 266.9,730.8 267.3,730.8 267.7,730.8 268.1,730.8 268.5,730.8 268.9,730.8 269.3,730.8 269.7,730.8 270.1,730.8 270.5,730.8 270.9,730.8 271.3,730.8 271.7,730.8 272.1,730.8 272.5,730.8 272.9,730.8 273.3,730.8 273.7,730.8 274.1,730.8 274.5,730.8 274.9,730.8 275.3,730.8 275.7,730.8 276.1,730.8 276.5,730.8 276.9,730.8 277.3,730.8 277.7,730.8 278.1,730.8 278.5,730.8 278.9,730.8 279.3,730.8 279.7,730.8 280.1,730.8 280.5,730.8 280.9,730.8 281.3,730.8 281.7,730.8 282.1,730.8 282.5,730.8 282.9,730.8 283.3,730.8 283.7,730.8 284.1,730.8 284.5,730.8 284.9,730.8 285.3,730.8 285.7,730.8 286.1,730.8 286.5,730.8 286.9,730.8 287.3,730.8 287.7,730.8 288.1,730.8 288.5,730.8 288.9,730.8 289.3,730.8 289.7,730.8 290.1,730.8" fill="none" stroke="#555" stroke-width="0.7" stroke-linejoin="round" />
<text x="248.7" y="714.8" font-size="2.5" font-weight="normal" text-anchor="end" fill="#888" >b</text>
<line x1="310.8" y1="712.8" x2="310.8" y2="730.8" stroke="#777" stroke-width="0.6" />
<line x1="310.8" y1="730.8" x2="355.2" y2="730.8" stroke="#777" stroke-width="0.6" />
<line x1="310.8" y1="730.8" x2="310.8" y2="732.0" stroke="#999" stroke-width="0.4" />
<line x1="321.9" y1="730.8" x2="321.9" y2="732.0" stroke="#999" stroke-width="0.4" />
<line x1="333.0" y1="730.8" x2="333.0" y2="732.0" stroke="#999" stroke-width="0.4" />
<line x1="344.1" y1="730.8" x2="344.1" y2="732.0" stroke="#999" stroke-width="0.4" />
<line x1="355.2" y1="730.8" x2="355.2" y2="732.0" stroke="#999" stroke-width="0.4" />
<polygon points="311.1,730.8 311.1,730.5 311.5,730.3 311.9,730.2 312.3,730.0 312.7,729.8 313.1,729.6 313.5,729.3 313.9,728.9 314.3,728.5 314.7,728.1 315.1,727.6 315.5,727.1 315.9,726.5 316.3,725.9 316.7,725.3 317.1,724.6 317.5,723.8 317.9,723.0 318.3,722.1 318.7,721.2 319.1,720.3 319.5,719.3 319.9,718.4 320.3,717.6 320.7,716.8 321.1,716.1 321.5,715.7 321.9,715.4 322.3,715.3 322.7,715.5 323.1,715.8 323.5,716.4 323.9,717.1 324.3,718.0 324.7,719.0 325.1,720.0 325.5,721.0 325.9,721.9 326.3,722.8 326.7,723.6 327.1,724.4 327.5,725.0 327.9,725.5 328.3,725.9 328.7,726.3 329.1,726.6 329.5,726.8 329.9,727.0 330.3,727.2 330.7,727.4 331.1,727.5 331.5,727.7 331.9,727.9 332.3,728.0 332.7,728.2 333.1,728.4 333.5,728.5 333.9,728.7 334.3,728.9 334.7,729.1 335.1,729.2 335.5,729.4 335.9,729.5 336.3,729.7 336.7,729.8 337.1,729.9 337.5,730.0 337.9,730.1 338.3,730.2 338.7,730.3 339.1,730.4 339.5,730.4 339.9,730.5 340.3,730.6 340.7,730.6 341.1,730.6 341.5,730.7 341.9,730.7 342.3,730.7 342.7,730.7 343.1,730.7 343.5,730.8 343.9,730.8 344.3,730.8 344.7,730.8 345.1,730.8 345.5,730.8 345.9,730.8 346.3,730.8 346.7,730.8 347.1,730.8 347.5,730.8 347.9,730.8 348.3,730.8 348.7,730.8 349.1,730.8 349.5,730.8 349.9,730.8 350.3,730.8 350.7,730.8 350.8,730.8" fill="#2a2a2a" stroke="none" stroke-width="1" />
<polyline points="311.1,730.1 311.5,729.9 311.9,729.7 312.3,729.4 312.7,729.1 313.1,728.8 313.5,728.4 313.9,727.9 314.3,727.5 314.7,727.0 315.1,726.5 315.5,725.9 315.9,725.4 316.3,724.8 316.7,724.2 317.1,723.6 317.5,723.0 317.9,722.3 318.3,721.7 318.7,721.1 319.1,720.5 319.5,719.9 319.9,719.5 320.3,719.1 320.7,718.8 321.1,718.7 321.5,718.7 321.9,718.9 322.3,719.2 322.7,719.7 323.1,720.3 323.5,721.1 323.9,721.9 324.3,722.9 324.7,723.8 325.1,724.7 325.5,725.6 325.9,726.4 326.3,727.2 326.7,727.9 327.1,728.5 327.5,729.0 327.9,729.4 328.3,729.7 328.7,730.0 329.1,730.2 329.5,730.4 329.9,730.5 330.3,730.6 330.7,730.7 331.1,730.7 331.5,730.7 331.9,730.8 332.3,730.8 332.7,730.8 333.1,730.8 333.5,730.8 333.9,730.8 334.3,730.8 334.7,730.8 335.1,730.8 335.5,730.8 335.9,730.8 336.3,730.8 336.7,730.8 337.1,730.8 337.5,730.8 337.9,730.8 338.3,730.8 338.7,730.8 339.1,730.8 339.5,730.8 339.9,730.8 340.3,730.8 340.7,730.8 341.1,730.8 341.5,730.8 341.9,730.8 342.3,730.8 342.7,730.8 343.1,730.8 343.5,730.8 343.9,730.8 344.3,730.8 344.7,730.8 345.1,730.8 345.5,730.8 345.9,730.8 346.3,730.8 346.7,730.8 347.1,730.8 347.5,730.8 347.9,730.8 348.3,730.8 348.7,730.8 349.1,730.8 349.5,730.8 349.9,730.8 350.3,730.8 350.7,730.8" fill="none" stroke="#555" stroke-width="0.7" stroke-linejoin="round" />
<text x="309.3" y="714.8" font-size="2.5" font-weight="normal" text-anchor="end" fill="#888" >b</text>
<text x="213.3" y="768.9" font-size="10" font-weight="bold" text-anchor="start" fill="#000" textLength="15.6" lengthAdjust="spacingAndGlyphs" >42d</text>
<rect x="242.5" y="744.0" width="56.2" height="42.6" fill="#e4e3e8" stroke="none" stroke-width="1" />
<rect x="305.1" y="744.2" width="56.0" height="41.6" fill="#e2e1e6" stroke="none" stroke-width="1" />
<defs><radialGradient id="c42g"><stop offset="0" stop-color="#a47ccc"/><stop offset="0.7" stop-color="#8e5cb8"/><stop offset="1" stop-color="#6c3a9a"/></radialGradient></defs>
<clipPath id="c42a"><rect x="242.5" y="744" width="56.2" height="42.6"/></clipPath><g clip-path="url(#c42a)">
<circle cx="269.0" cy="745.5" r="6.0" fill="#f2eef6" stroke="none" stroke-width="1" />
<circle cx="269.0" cy="745.5" r="5.0" fill="url(#c42g)" stroke="none" stroke-width="1" />
<circle cx="289.2" cy="749.4" r="6.5" fill="#f2eef6" stroke="none" stroke-width="1" />
<circle cx="289.2" cy="749.4" r="5.5" fill="url(#c42g)" stroke="none" stroke-width="1" />
<circle cx="262.7" cy="757.5" r="6.5" fill="#f2eef6" stroke="none" stroke-width="1" />
<circle cx="262.7" cy="757.5" r="5.5" fill="url(#c42g)" stroke="none" stroke-width="1" />
<circle cx="274.8" cy="753.7" r="6.3" fill="#f2eef6" stroke="none" stroke-width="1" />
<circle cx="274.8" cy="753.7" r="5.3" fill="url(#c42g)" stroke="none" stroke-width="1" />
<circle cx="273.3" cy="764.4" r="6.3" fill="#f2eef6" stroke="none" stroke-width="1" />
<circle cx="273.3" cy="764.4" r="5.3" fill="url(#c42g)" stroke="none" stroke-width="1" />
<circle cx="268.4" cy="773.9" r="6.0" fill="#f2eef6" stroke="none" stroke-width="1" />
<circle cx="268.4" cy="773.9" r="5.0" fill="url(#c42g)" stroke="none" stroke-width="1" />
<circle cx="251.7" cy="780.2" r="6.0" fill="#f2eef6" stroke="none" stroke-width="1" />
<circle cx="251.7" cy="780.2" r="5.0" fill="url(#c42g)" stroke="none" stroke-width="1" />
<circle cx="279.1" cy="782.0" r="5.5" fill="#f2eef6" stroke="none" stroke-width="1" />
<circle cx="279.1" cy="782.0" r="4.5" fill="url(#c42g)" stroke="none" stroke-width="1" />
<circle cx="290.0" cy="780.2" r="6.5" fill="#f2eef6" stroke="none" stroke-width="1" />
<circle cx="290.0" cy="780.2" r="5.5" fill="url(#c42g)" stroke="none" stroke-width="1" />
</g><g>
<circle cx="316.5" cy="773.9" r="7.0" fill="#f2eef6" stroke="none" stroke-width="1" />
<circle cx="316.5" cy="773.9" r="6.0" fill="url(#c42g)" stroke="none" stroke-width="1" />
<circle cx="336.7" cy="767.3" r="7.3" fill="#f2eef6" stroke="none" stroke-width="1" />
<circle cx="336.7" cy="767.3" r="6.3" fill="url(#c42g)" stroke="none" stroke-width="1" />
<circle cx="344.5" cy="760.4" r="7.3" fill="#f2eef6" stroke="none" stroke-width="1" />
<circle cx="344.5" cy="760.4" r="6.3" fill="url(#c42g)" stroke="none" stroke-width="1" />
<circle cx="347.4" cy="771.3" r="6.3" fill="#f2eef6" stroke="none" stroke-width="1" />
<circle cx="347.4" cy="771.3" r="5.3" fill="url(#c42g)" stroke="none" stroke-width="1" />
</g>
<text x="382.8" y="529.4" font-size="12.8" font-weight="bold" text-anchor="start" fill="#000" >I</text>
<text transform="translate(390.4,664.0) rotate(-90)" x="0" y="0" font-size="10" font-weight="normal" text-anchor="middle" fill="#000" textLength="58.7" lengthAdjust="spacingAndGlyphs" class="hv">Relative gene</text>
<text transform="translate(390.4,601.2) rotate(-90)" x="0" y="0" font-size="10" font-weight="normal" text-anchor="middle" fill="#000" textLength="39.6" lengthAdjust="spacingAndGlyphs" class="hv">expression</text>
<line x1="410.2" y1="530.2" x2="410.2" y2="616.0" stroke="#555" stroke-width="0.9" />
<line x1="410.2" y1="616.0" x2="496.4" y2="616.0" stroke="#555" stroke-width="0.9" />
<line x1="408.2" y1="616.0" x2="410.2" y2="616.0" stroke="#555" stroke-width="0.8" />
<text x="406.9" y="618.8" font-size="8.2" font-weight="bold" text-anchor="end" fill="#000" textLength="4.2" lengthAdjust="spacingAndGlyphs" >0</text>
<line x1="408.2" y1="587.4" x2="410.2" y2="587.4" stroke="#555" stroke-width="0.8" />
<text x="406.9" y="590.2" font-size="8.2" font-weight="bold" text-anchor="end" fill="#000" textLength="10.3" lengthAdjust="spacingAndGlyphs" >0.5</text>
<line x1="408.2" y1="558.8" x2="410.2" y2="558.8" stroke="#555" stroke-width="0.8" />
<text x="406.9" y="561.6" font-size="8.2" font-weight="bold" text-anchor="end" fill="#000" textLength="4.2" lengthAdjust="spacingAndGlyphs" >1</text>
<line x1="408.2" y1="530.2" x2="410.2" y2="530.2" stroke="#555" stroke-width="0.8" />
<text x="406.9" y="533.0" font-size="8.2" font-weight="bold" text-anchor="end" fill="#000" textLength="10.3" lengthAdjust="spacingAndGlyphs" >1.5</text>
<line x1="431.9" y1="543.7" x2="431.9" y2="558.5" stroke="#000" stroke-width="0.9" />
<line x1="428.9" y1="543.7" x2="434.9" y2="543.7" stroke="#000" stroke-width="0.9" />
<rect x="423.1" y="558.5" width="17.5" height="57.5" fill="#000" stroke="none" stroke-width="1" />
<line x1="475.3" y1="594.9" x2="475.3" y2="599.5" stroke="#000" stroke-width="0.9" />
<line x1="472.3" y1="594.9" x2="478.3" y2="594.9" stroke="#000" stroke-width="0.9" />
<rect x="466.8" y="599.5" width="17.0" height="16.5" fill="#000" stroke="none" stroke-width="1" />
<text x="432.6" y="630.2" font-size="8.2" font-weight="bold" text-anchor="middle" fill="#000" textLength="25.6" lengthAdjust="spacingAndGlyphs" >D171N</text>
<text x="477.0" y="630.2" font-size="8.2" font-weight="bold" text-anchor="middle" fill="#000" textLength="43.1" lengthAdjust="spacingAndGlyphs" >D171N/BMI1</text>
<text x="459.2" y="536.9" font-size="9.6" font-weight="bold" text-anchor="start" fill="#000" font-style="italic" textLength="29.1" lengthAdjust="spacingAndGlyphs" >INK4A</text>
<text x="471.9" y="550.9" font-size="7.2" font-weight="bold" textLength="30.2" lengthAdjust="spacingAndGlyphs"><tspan font-style="italic" font-weight="normal">p</tspan> = 0.013</text>
<line x1="410.2" y1="657.0" x2="410.2" y2="743.9" stroke="#555" stroke-width="0.9" />
<line x1="410.2" y1="743.9" x2="496.4" y2="743.9" stroke="#555" stroke-width="0.9" />
<line x1="408.2" y1="743.9" x2="410.2" y2="743.9" stroke="#555" stroke-width="0.8" />
<text x="406.9" y="746.7" font-size="8.2" font-weight="bold" text-anchor="end" fill="#000" textLength="4.2" lengthAdjust="spacingAndGlyphs" >0</text>
<line x1="408.2" y1="714.9" x2="410.2" y2="714.9" stroke="#555" stroke-width="0.8" />
<text x="406.9" y="717.7" font-size="8.2" font-weight="bold" text-anchor="end" fill="#000" textLength="10.3" lengthAdjust="spacingAndGlyphs" >0.5</text>
<line x1="408.2" y1="686.0" x2="410.2" y2="686.0" stroke="#555" stroke-width="0.8" />
<text x="406.9" y="688.8" font-size="8.2" font-weight="bold" text-anchor="end" fill="#000" textLength="4.2" lengthAdjust="spacingAndGlyphs" >1</text>
<line x1="408.2" y1="657.0" x2="410.2" y2="657.0" stroke="#555" stroke-width="0.8" />
<text x="406.9" y="659.8" font-size="8.2" font-weight="bold" text-anchor="end" fill="#000" textLength="10.3" lengthAdjust="spacingAndGlyphs" >1.5</text>
<line x1="431.9" y1="666.6" x2="431.9" y2="685.6" stroke="#000" stroke-width="0.9" />
<line x1="428.9" y1="666.6" x2="434.9" y2="666.6" stroke="#000" stroke-width="0.9" />
<rect x="423.1" y="685.6" width="17.5" height="58.3" fill="#000" stroke="none" stroke-width="1" />
<line x1="475.3" y1="696.3" x2="475.3" y2="704.6" stroke="#000" stroke-width="0.9" />
<line x1="472.3" y1="696.3" x2="478.3" y2="696.3" stroke="#000" stroke-width="0.9" />
<rect x="466.8" y="704.6" width="17.0" height="39.3" fill="#000" stroke="none" stroke-width="1" />
<text x="432.6" y="758.1" font-size="8.2" font-weight="bold" text-anchor="middle" fill="#000" textLength="25.6" lengthAdjust="spacingAndGlyphs" >D171N</text>
<text x="477.0" y="758.1" font-size="8.2" font-weight="bold" text-anchor="middle" fill="#000" textLength="43.1" lengthAdjust="spacingAndGlyphs" >D171N/BMI1</text>
<text x="469.8" y="666.7" font-size="9.6" font-weight="bold" text-anchor="start" fill="#000" font-style="italic" textLength="20.0" lengthAdjust="spacingAndGlyphs" >ARF</text>
<text x="476.2" y="675.9" font-size="7.2" font-weight="bold" textLength="26.9" lengthAdjust="spacingAndGlyphs"><tspan font-style="italic" font-weight="normal">p</tspan> = 0.18</text>
</svg></body></html>
